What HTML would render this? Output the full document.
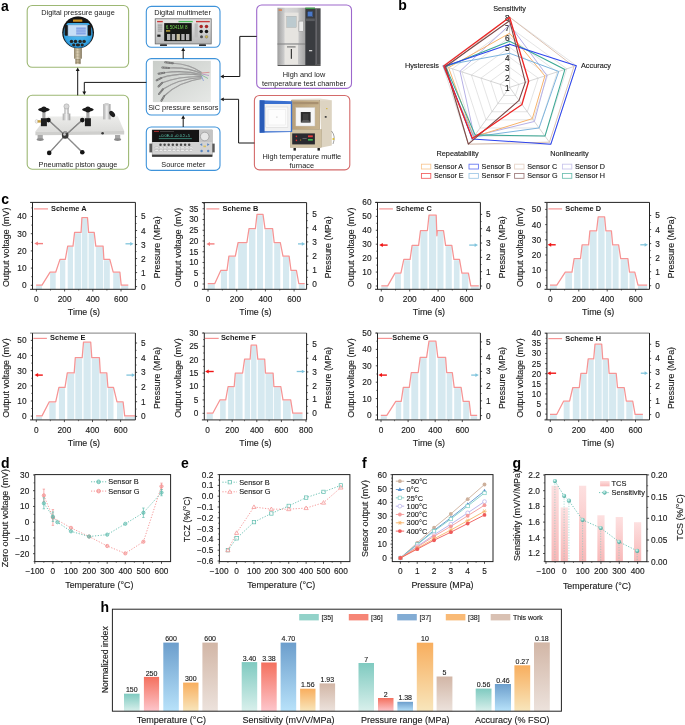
<!DOCTYPE html>
<html><head><meta charset="utf-8"><title>figure</title>
<style>
html,body{margin:0;padding:0;background:#fff;}
body{width:685px;height:725px;overflow:hidden;}
svg{display:block;font-family:"Liberation Sans", sans-serif;will-change:transform;}
</style></head><body>
<svg width="685" height="725" viewBox="0 0 685 725" font-family='"Liberation Sans", sans-serif'>
<defs>

<radialGradient id="gblue" cx="0.5" cy="0.45" r="0.55"><stop offset="0" stop-color="#58bef0"/><stop offset="0.85" stop-color="#34a4e4"/><stop offset="1" stop-color="#2280c0"/></radialGradient>
<linearGradient id="gstem" x1="0" x2="1"><stop offset="0" stop-color="#8e8268"/><stop offset="0.45" stop-color="#d8ccb0"/><stop offset="1" stop-color="#847860"/></linearGradient>
<linearGradient id="gsilver" x1="0" x2="1"><stop offset="0" stop-color="#a8a8a8"/><stop offset="0.5" stop-color="#f2f2f2"/><stop offset="1" stop-color="#9a9a9a"/></linearGradient>
<linearGradient id="gplat" x1="0" y1="0" x2="0" y2="1"><stop offset="0" stop-color="#ececea"/><stop offset="1" stop-color="#dcdcda"/></linearGradient>
<linearGradient id="gphoto" x1="0" y1="0" x2="1" y2="1"><stop offset="0" stop-color="#c9cdc9"/><stop offset="1" stop-color="#e6e8e6"/></linearGradient>
<linearGradient id="gcham" x1="0" x2="1"><stop offset="0" stop-color="#9e9e9e"/><stop offset="0.3" stop-color="#d8d8d8"/><stop offset="0.7" stop-color="#cfcfcf"/><stop offset="1" stop-color="#a4a4a4"/></linearGradient>
<linearGradient id="gfurn" x1="0" x2="1"><stop offset="0" stop-color="#b89f78"/><stop offset="1" stop-color="#c8b490"/></linearGradient>
<linearGradient id="gdmm" x1="0" y1="0" x2="0" y2="1"><stop offset="0" stop-color="#e8e8e8"/><stop offset="1" stop-color="#b8b8b8"/></linearGradient>

<linearGradient id="gtcs" x1="0" y1="0" x2="0" y2="1"><stop offset="0" stop-color="#fde0e0"/><stop offset="1" stop-color="#f8b8b8"/></linearGradient>
<radialGradient id="gball" cx="0.4" cy="0.35" r="0.6"><stop offset="0" stop-color="#e8f8f6"/><stop offset="0.5" stop-color="#8ad2c8"/><stop offset="1" stop-color="#4aa89c"/></radialGradient>
<linearGradient id="hg0" x1="0" y1="0" x2="0" y2="1"><stop offset="0" stop-color="#7fcac0"/><stop offset="1" stop-color="#d9f0ec"/></linearGradient>
<linearGradient id="hg1" x1="0" y1="0" x2="0" y2="1"><stop offset="0" stop-color="#f4705e"/><stop offset="1" stop-color="#fdc6cc"/></linearGradient>
<linearGradient id="hg2" x1="0" y1="0" x2="0" y2="1"><stop offset="0" stop-color="#6c9ecc"/><stop offset="1" stop-color="#b8e2fa"/></linearGradient>
<linearGradient id="hg3" x1="0" y1="0" x2="0" y2="1"><stop offset="0" stop-color="#f8ae5e"/><stop offset="1" stop-color="#f8e6bc"/></linearGradient>
<linearGradient id="hg4" x1="0" y1="0" x2="0" y2="1"><stop offset="0" stop-color="#d2b6a6"/><stop offset="1" stop-color="#ece2dc"/></linearGradient>
</defs>
<text x="1" y="10.6" font-size="14" font-weight="bold" fill="#000">a</text>
<rect x="27.20" y="5.50" width="101.40" height="61.80" fill="none" stroke="#9db874" stroke-width="1.1" rx="5"/>
<rect x="27.20" y="95.30" width="101.40" height="73.90" fill="none" stroke="#9db874" stroke-width="1.1" rx="5"/>
<rect x="146.30" y="6.40" width="73.70" height="40.90" fill="none" stroke="#3e93da" stroke-width="1.1" rx="5"/>
<rect x="146.30" y="58.60" width="73.70" height="56.40" fill="none" stroke="#3e93da" stroke-width="1.1" rx="5"/>
<rect x="146.30" y="127.00" width="73.70" height="43.40" fill="none" stroke="#3e93da" stroke-width="1.1" rx="5"/>
<rect x="256.70" y="5.00" width="94.80" height="83.40" fill="none" stroke="#9d68cc" stroke-width="1.1" rx="5"/>
<rect x="254.40" y="95.50" width="95.40" height="74.40" fill="none" stroke="#d46a6a" stroke-width="1.1" rx="5"/>
<text x="78.00" y="15.05" font-size="7.35" text-anchor="middle" font-weight="normal" fill="#1a1a1a" stroke="#1a1a1a" stroke-width="0">Digital pressure gauge</text>
<text x="78.00" y="166.85" font-size="7.35" text-anchor="middle" font-weight="normal" fill="#1a1a1a" stroke="#1a1a1a" stroke-width="0">Pneumatic piston gauge</text>
<text x="182.50" y="15.45" font-size="7.35" text-anchor="middle" font-weight="normal" fill="#1a1a1a" stroke="#1a1a1a" stroke-width="0">Digital multimeter</text>
<text x="183.30" y="109.55" font-size="7.35" text-anchor="middle" font-weight="normal" fill="#1a1a1a" stroke="#1a1a1a" stroke-width="0">SiC pressure sensors</text>
<text x="183.30" y="166.55" font-size="7.35" text-anchor="middle" font-weight="normal" fill="#1a1a1a" stroke="#1a1a1a" stroke-width="0">Source meter</text>
<text x="304.00" y="77.15" font-size="7.35" text-anchor="middle" font-weight="normal" fill="#1a1a1a" stroke="#1a1a1a" stroke-width="0">High and low</text>
<text x="304.00" y="85.95" font-size="7.35" text-anchor="middle" font-weight="normal" fill="#1a1a1a" stroke="#1a1a1a" stroke-width="0">temperature test chamber</text>
<text x="301.80" y="159.45" font-size="7.35" text-anchor="middle" font-weight="normal" fill="#1a1a1a" stroke="#1a1a1a" stroke-width="0">High temperature muffle</text>
<text x="301.80" y="168.25" font-size="7.35" text-anchor="middle" font-weight="normal" fill="#1a1a1a" stroke="#1a1a1a" stroke-width="0">furnace</text>
<line x1="77.70" y1="95.30" x2="77.70" y2="70.50" stroke="#161616" stroke-width="1.0"/>
<polygon points="77.70,67.60 75.78,71.10 79.62,71.10" fill="#161616" stroke="none" stroke-width="1" stroke-linejoin="round"/>
<polyline points="146.30,82.40 84.30,82.40 84.30,92.00" fill="none" stroke="#161616" stroke-width="1.0" stroke-linejoin="round"/>
<polygon points="84.30,95.00 82.38,91.50 86.22,91.50" fill="#161616" stroke="none" stroke-width="1" stroke-linejoin="round"/>
<line x1="183.20" y1="58.60" x2="183.20" y2="50.50" stroke="#161616" stroke-width="1.0"/>
<polygon points="183.20,47.60 181.27,51.10 185.12,51.10" fill="#161616" stroke="none" stroke-width="1" stroke-linejoin="round"/>
<line x1="183.20" y1="127.00" x2="183.20" y2="118.20" stroke="#161616" stroke-width="1.0"/>
<polygon points="183.20,115.30 181.27,118.80 185.12,118.80" fill="#161616" stroke="none" stroke-width="1" stroke-linejoin="round"/>
<polyline points="256.70,36.40 239.80,36.40 239.80,76.50 223.50,76.50" fill="none" stroke="#161616" stroke-width="1.0" stroke-linejoin="round"/>
<polygon points="220.30,76.50 223.80,74.58 223.80,78.42" fill="#161616" stroke="none" stroke-width="1" stroke-linejoin="round"/>
<polyline points="254.40,143.00 238.60,143.00 238.60,99.30 223.50,99.30" fill="none" stroke="#161616" stroke-width="1.0" stroke-linejoin="round"/>
<polygon points="220.30,99.30 223.80,97.38 223.80,101.22" fill="#161616" stroke="none" stroke-width="1" stroke-linejoin="round"/>
<g>
<rect x="74.00" y="47.50" width="7.90" height="11.20" fill="url(#gstem)" stroke="none" stroke-width="1" rx="0"/>
<line x1="74.20" y1="50.50" x2="81.70" y2="50.50" stroke="#a09478" stroke-width="0.3"/>
<line x1="74.20" y1="53.50" x2="81.70" y2="53.50" stroke="#a09478" stroke-width="0.3"/>
<line x1="74.20" y1="56.50" x2="81.70" y2="56.50" stroke="#a09478" stroke-width="0.3"/>
<rect x="75.40" y="58.50" width="5.20" height="5.60" fill="url(#gstem)" stroke="none" stroke-width="1" rx="0"/>
<line x1="75.40" y1="59.50" x2="80.60" y2="59.50" stroke="#7a6a4a" stroke-width="0.4"/>
<line x1="75.40" y1="61.00" x2="80.60" y2="61.00" stroke="#7a6a4a" stroke-width="0.4"/>
<line x1="75.40" y1="62.50" x2="80.60" y2="62.50" stroke="#7a6a4a" stroke-width="0.4"/>
<clipPath id="gclip"><circle cx="78.1" cy="32.4" r="15.6"/></clipPath>
<circle cx="78.1" cy="32.4" r="15.9" fill="#151515"/>
<circle cx="78.1" cy="33.4" r="14.6" fill="url(#gblue)"/>
<rect x="60" y="14" width="40" height="8.2" fill="#151515" clip-path="url(#gclip)"/>
<path d="M66.5,22 Q78.1,19.6 89.7,22 L89.7,23 L66.5,23 Z" fill="#151515"/>
<rect x="73.00" y="19.60" width="9.30" height="2.20" fill="#d09020" stroke="none" stroke-width="1" rx="0.3"/>
<rect x="64.60" y="25.00" width="3.60" height="10.80" fill="#1a1a1a" stroke="none" stroke-width="1" rx="1.2"/>
<rect x="87.60" y="25.00" width="3.60" height="10.80" fill="#1a1a1a" stroke="none" stroke-width="1" rx="1.2"/>
<rect x="67.90" y="24.80" width="19.40" height="11.50" fill="#c6def6" stroke="#5a7a9a" stroke-width="0.4" rx="0.8"/>
<rect x="76.20" y="27.60" width="9.60" height="1.10" fill="#6a8ee0" stroke="none" stroke-width="1" rx="0"/>
<rect x="76.20" y="29.50" width="9.60" height="1.10" fill="#6a8ee0" stroke="none" stroke-width="1" rx="0"/>
<rect x="76.20" y="31.40" width="9.60" height="1.10" fill="#6a8ee0" stroke="none" stroke-width="1" rx="0"/>
<rect x="76.20" y="33.30" width="9.60" height="1.10" fill="#6a8ee0" stroke="none" stroke-width="1" rx="0"/>
<ellipse cx="71.5" cy="41.4" rx="1.75" ry="1.6" fill="#252525"/>
<ellipse cx="75.5" cy="41.4" rx="1.75" ry="1.6" fill="#252525"/>
<ellipse cx="80.1" cy="41.4" rx="1.75" ry="1.6" fill="#252525"/>
<ellipse cx="84.1" cy="41.4" rx="1.75" ry="1.6" fill="#252525"/>
<ellipse cx="73.7" cy="45.0" rx="1.6" ry="1.4" fill="#252525"/>
<ellipse cx="77.9" cy="45.0" rx="2.2" ry="1.4" fill="#252525"/>
<ellipse cx="82.2" cy="45.0" rx="1.6" ry="1.4" fill="#252525"/>
</g>
<g>
<polygon points="46.50,116.60 117.80,116.20 124.20,131.00 35.40,131.60" fill="url(#gplat)" stroke="none" stroke-width="1" stroke-linejoin="round"/>
<polygon points="35.40,131.60 124.20,131.00 124.20,134.60 35.40,135.30" fill="#cfcfcd" stroke="none" stroke-width="1" stroke-linejoin="round"/>
<rect x="37.60" y="135.00" width="5.20" height="4.20" fill="#a8a8a8" stroke="none" stroke-width="1" rx="0"/>
<ellipse cx="40.2" cy="139.6" rx="3.6" ry="1.3" fill="#8a8a8a"/>
<rect x="115.00" y="135.00" width="5.20" height="4.20" fill="#a8a8a8" stroke="none" stroke-width="1" rx="0"/>
<ellipse cx="117.6" cy="139.6" rx="3.6" ry="1.3" fill="#8a8a8a"/>
<ellipse cx="36.6" cy="121.4" rx="1.4" ry="1.9" fill="#f2f2f2" stroke="#aaa" stroke-width="0.4"/>
<rect x="37.60" y="120.20" width="3.20" height="2.40" fill="#c8a040" stroke="none" stroke-width="1" rx="0"/>
<line x1="65.20" y1="135.40" x2="48.40" y2="120.10" stroke="#6e6e6e" stroke-width="1.3"/>
<line x1="65.20" y1="135.40" x2="48.40" y2="120.10" stroke="#b8b8b8" stroke-width="0.4"/>
<line x1="65.20" y1="135.40" x2="82.30" y2="120.10" stroke="#6e6e6e" stroke-width="1.3"/>
<line x1="65.20" y1="135.40" x2="82.30" y2="120.10" stroke="#b8b8b8" stroke-width="0.4"/>
<line x1="65.20" y1="135.40" x2="49.20" y2="152.90" stroke="#6e6e6e" stroke-width="1.3"/>
<line x1="65.20" y1="135.40" x2="49.20" y2="152.90" stroke="#b8b8b8" stroke-width="0.4"/>
<line x1="65.20" y1="135.40" x2="82.30" y2="152.20" stroke="#6e6e6e" stroke-width="1.3"/>
<line x1="65.20" y1="135.40" x2="82.30" y2="152.20" stroke="#b8b8b8" stroke-width="0.4"/>
<circle cx="48.4" cy="120.1" r="2.3" fill="#141414"/>
<circle cx="82.3" cy="120.1" r="2.3" fill="#141414"/>
<circle cx="49.2" cy="152.9" r="2.3" fill="#141414"/>
<circle cx="82.3" cy="152.2" r="2.3" fill="#141414"/>
<circle cx="65.2" cy="135.4" r="3.3" fill="#3a3a3a"/>
<circle cx="64.5" cy="134.4" r="1.3" fill="#c8c8c8"/>
<rect x="63.60" y="131.00" width="3.20" height="2.20" fill="#9a9a9a" stroke="none" stroke-width="1" rx="0"/>
<rect x="42.30" y="111.50" width="3.20" height="7.00" fill="#a6a6a6" stroke="none" stroke-width="1" rx="0"/>
<rect x="40.90" y="118.20" width="6.00" height="8.00" fill="#1e1e1e" stroke="none" stroke-width="1" rx="0"/>
<ellipse cx="43.9" cy="109.6" rx="5.8" ry="2.0" fill="#1a1a1a"/>
<ellipse cx="43.9" cy="109.4" rx="2.6" ry="3.0" fill="#1a1a1a"/>
<rect x="86.30" y="111.50" width="3.20" height="7.00" fill="#a6a6a6" stroke="none" stroke-width="1" rx="0"/>
<rect x="84.90" y="118.20" width="6.00" height="8.00" fill="#1e1e1e" stroke="none" stroke-width="1" rx="0"/>
<ellipse cx="87.9" cy="109.6" rx="5.8" ry="2.0" fill="#1a1a1a"/>
<ellipse cx="87.9" cy="109.4" rx="2.6" ry="3.0" fill="#1a1a1a"/>
<rect x="62.70" y="113.50" width="7.60" height="6.80" fill="url(#gsilver)" stroke="none" stroke-width="1" rx="0"/>
<rect x="64.40" y="108.00" width="4.20" height="6.00" fill="url(#gsilver)" stroke="none" stroke-width="1" rx="0"/>
<circle cx="66.5" cy="106.4" r="2.6" fill="#d8d8d8" stroke="#8a8a8a" stroke-width="0.4"/>
<rect x="103.20" y="104.00" width="7.30" height="15.40" fill="url(#gsilver)" stroke="none" stroke-width="1" rx="0"/>
<rect x="104.60" y="103.00" width="4.00" height="2.50" fill="#d0d0d0" stroke="none" stroke-width="1" rx="0"/>
<ellipse cx="112.2" cy="114.0" rx="2.2" ry="3.6" transform="rotate(-40 112.2 114.0)" fill="#1e1e1e"/>
<circle cx="102.6" cy="133.2" r="1.3" fill="#3a3a3a"/>
</g>
<g>
<rect x="155.20" y="18.80" width="56.00" height="25.10" fill="url(#gdmm)" stroke="#6a6a6a" stroke-width="0.8" rx="0"/>
<rect x="157.10" y="20.90" width="5.70" height="1.40" fill="#c83a3a" stroke="none" stroke-width="1" rx="0"/>
<rect x="178.50" y="20.90" width="14.20" height="1.40" fill="#50c060" stroke="none" stroke-width="1" rx="0"/>
<rect x="196.00" y="20.90" width="13.80" height="1.40" fill="#c83a3a" stroke="none" stroke-width="1" rx="0"/>
<rect x="164.20" y="23.10" width="27.50" height="18.00" fill="#161816" stroke="none" stroke-width="1" rx="0"/>
<text x="165.80" y="29.26" font-size="4.6" text-anchor="start" font-weight="normal" fill="#6fd050" stroke="#6fd050" stroke-width="0">6.5041M 8</text>
<rect x="166.00" y="30.20" width="4.20" height="1.40" fill="#c8b040" stroke="none" stroke-width="1" rx="0"/>
<rect x="167.00" y="34.00" width="3.30" height="6.10" fill="#b4b4b4" stroke="none" stroke-width="1" rx="0"/>
<rect x="171.80" y="34.00" width="3.30" height="6.10" fill="#b4b4b4" stroke="none" stroke-width="1" rx="0"/>
<rect x="176.60" y="34.00" width="3.30" height="6.10" fill="#c8c0a0" stroke="none" stroke-width="1" rx="0"/>
<rect x="181.30" y="34.00" width="3.30" height="6.10" fill="#b4b4b4" stroke="none" stroke-width="1" rx="0"/>
<rect x="186.00" y="34.00" width="3.30" height="6.10" fill="#b4b4b4" stroke="none" stroke-width="1" rx="0"/>
<rect x="157.20" y="23.20" width="5.60" height="11.00" fill="#cfcfcf" stroke="none" stroke-width="1" rx="0"/>
<rect x="157.80" y="24.50" width="4.40" height="1.20" fill="#9a9a9a" stroke="none" stroke-width="1" rx="0"/>
<rect x="157.80" y="26.50" width="4.40" height="1.20" fill="#9a9a9a" stroke="none" stroke-width="1" rx="0"/>
<rect x="157.80" y="28.50" width="4.40" height="1.20" fill="#9a9a9a" stroke="none" stroke-width="1" rx="0"/>
<rect x="157.80" y="30.50" width="4.40" height="1.20" fill="#9a9a9a" stroke="none" stroke-width="1" rx="0"/>
<rect x="157.30" y="34.60" width="3.20" height="2.20" fill="#202020" stroke="none" stroke-width="1" rx="0"/>
<rect x="194.60" y="23.40" width="3.20" height="14.00" fill="#bcbcbc" stroke="none" stroke-width="1" rx="0"/>
<circle cx="201.2" cy="26.4" r="1.75" fill="#a82828"/>
<circle cx="206.5" cy="26.4" r="1.75" fill="#a82828"/>
<circle cx="201.2" cy="31.6" r="1.75" fill="#151515"/>
<circle cx="206.5" cy="31.6" r="1.75" fill="#151515"/>
<circle cx="201.5" cy="36.8" r="1.5" fill="#505050"/><circle cx="206.5" cy="36.8" r="1.4" fill="#d0b850" stroke="#444" stroke-width="0.3"/>
<rect x="160.00" y="44.20" width="7.00" height="1.80" fill="#303030" stroke="none" stroke-width="1" rx="0.6"/>
<rect x="199.00" y="44.20" width="7.00" height="1.80" fill="#303030" stroke="none" stroke-width="1" rx="0.6"/>
</g>
<g>
<rect x="152.90" y="60.80" width="57.90" height="41.30" fill="url(#gphoto)" stroke="none" stroke-width="1" rx="0"/>
<path d="M172.8,63.2 Q190,64 201.5,72.5" fill="none" stroke="#858585" stroke-width="1.15"/>
<path d="M172.8,63.2 Q190,64 201.5,72.5" fill="none" stroke="#c4c4c4" stroke-width="0.4"/>
<line x1="165.2" y1="62.3" x2="172.8" y2="63.2" stroke="#6e6e6e" stroke-width="1.9" stroke-linecap="round"/>
<line x1="165.2" y1="62.3" x2="172.8" y2="63.2" stroke="#d0d0d0" stroke-width="0.6" stroke-dasharray="0.8,0.8"/>
<path d="M169.0,68.0 Q188,67 201.5,73.5" fill="none" stroke="#858585" stroke-width="1.15"/>
<path d="M169.0,68.0 Q188,67 201.5,73.5" fill="none" stroke="#c4c4c4" stroke-width="0.4"/>
<line x1="162.3" y1="67.5" x2="169.0" y2="68.0" stroke="#6e6e6e" stroke-width="1.9" stroke-linecap="round"/>
<line x1="162.3" y1="67.5" x2="169.0" y2="68.0" stroke="#d0d0d0" stroke-width="0.6" stroke-dasharray="0.8,0.8"/>
<path d="M164.2,72.7 Q185,70 201.5,74.5" fill="none" stroke="#858585" stroke-width="1.15"/>
<path d="M164.2,72.7 Q185,70 201.5,74.5" fill="none" stroke="#c4c4c4" stroke-width="0.4"/>
<line x1="158.5" y1="73.7" x2="164.2" y2="72.7" stroke="#6e6e6e" stroke-width="1.9" stroke-linecap="round"/>
<line x1="158.5" y1="73.7" x2="164.2" y2="72.7" stroke="#d0d0d0" stroke-width="0.6" stroke-dasharray="0.8,0.8"/>
<path d="M161.4,77.9 Q180,72 201.5,75.5" fill="none" stroke="#858585" stroke-width="1.15"/>
<path d="M161.4,77.9 Q180,72 201.5,75.5" fill="none" stroke="#c4c4c4" stroke-width="0.4"/>
<line x1="156.6" y1="80.3" x2="161.4" y2="77.9" stroke="#6e6e6e" stroke-width="1.9" stroke-linecap="round"/>
<line x1="156.6" y1="80.3" x2="161.4" y2="77.9" stroke="#d0d0d0" stroke-width="0.6" stroke-dasharray="0.8,0.8"/>
<path d="M162.3,82.7 Q180,76 201.5,76.5" fill="none" stroke="#858585" stroke-width="1.15"/>
<path d="M162.3,82.7 Q180,76 201.5,76.5" fill="none" stroke="#c4c4c4" stroke-width="0.4"/>
<line x1="158.5" y1="86.5" x2="162.3" y2="82.7" stroke="#6e6e6e" stroke-width="1.9" stroke-linecap="round"/>
<line x1="158.5" y1="86.5" x2="162.3" y2="82.7" stroke="#d0d0d0" stroke-width="0.6" stroke-dasharray="0.8,0.8"/>
<path d="M162.8,89.3 Q178,79 201.5,77.5" fill="none" stroke="#858585" stroke-width="1.15"/>
<path d="M162.8,89.3 Q178,79 201.5,77.5" fill="none" stroke="#c4c4c4" stroke-width="0.4"/>
<line x1="159.0" y1="94.0" x2="162.8" y2="89.3" stroke="#6e6e6e" stroke-width="1.9" stroke-linecap="round"/>
<line x1="159.0" y1="94.0" x2="162.8" y2="89.3" stroke="#d0d0d0" stroke-width="0.6" stroke-dasharray="0.8,0.8"/>
<path d="M164.2,96.0 Q178,82 201.5,78.5" fill="none" stroke="#858585" stroke-width="1.15"/>
<path d="M164.2,96.0 Q178,82 201.5,78.5" fill="none" stroke="#c4c4c4" stroke-width="0.4"/>
<line x1="161.4" y1="100.7" x2="164.2" y2="96.0" stroke="#6e6e6e" stroke-width="1.9" stroke-linecap="round"/>
<line x1="161.4" y1="100.7" x2="164.2" y2="96.0" stroke="#d0d0d0" stroke-width="0.6" stroke-dasharray="0.8,0.8"/>
<line x1="201.50" y1="73.00" x2="209.50" y2="72.30" stroke="#d05050" stroke-width="0.5"/>
<line x1="201.50" y1="75.00" x2="208.00" y2="78.50" stroke="#40a060" stroke-width="0.5"/>
<line x1="201.50" y1="76.00" x2="203.50" y2="81.00" stroke="#5070d0" stroke-width="0.5"/>
<line x1="202.00" y1="74.00" x2="209.00" y2="75.50" stroke="#9060b0" stroke-width="0.5"/>
</g>
<g>
<rect x="152.10" y="129.90" width="60.20" height="26.90" fill="#d2d2d2" stroke="#8a8a8a" stroke-width="0.4" rx="0"/>
<rect x="152.10" y="129.90" width="47.10" height="12.10" fill="#141414" stroke="none" stroke-width="1" rx="0"/>
<rect x="154.00" y="130.90" width="5.00" height="0.90" fill="#c03030" stroke="none" stroke-width="1" rx="0"/>
<rect x="160.00" y="131.00" width="14.00" height="0.60" fill="#5a5a5a" stroke="none" stroke-width="1" rx="0"/>
<text x="158.80" y="136.84" font-size="4.0" text-anchor="start" font-weight="normal" fill="#5cc8b0" stroke="#5cc8b0" stroke-width="0">+0.0E-0  +0.0.Σ+5</text>
<rect x="158.80" y="138.20" width="33.00" height="0.90" fill="#3a8a7a" stroke="none" stroke-width="1" rx="0"/>
<rect x="199.20" y="129.90" width="13.10" height="12.10" fill="#c4c4c4" stroke="none" stroke-width="1" rx="0"/>
<circle cx="204.7" cy="136.5" r="4.3" fill="#e6e6e6" stroke="#8a8a8a" stroke-width="0.6"/>
<path d="M199.8,144.6 L202.2,143.2 L202.2,146.0 Z M209.6,144.6 L207.2,143.2 L207.2,146.0 Z" fill="#5a86c0"/>
<rect x="203.40" y="145.60" width="2.60" height="1.60" fill="#d8c060" stroke="none" stroke-width="1" rx="0"/>
<circle cx="201.6" cy="151.0" r="1.2" fill="#5a86c0"/><circle cx="208.2" cy="151.0" r="1.2" fill="#5a86c0"/>
<circle cx="160.5" cy="144.8" r="1.25" fill="#4a4a4a"/>
<circle cx="164.6" cy="144.8" r="1.25" fill="#4a4a4a"/>
<circle cx="168.7" cy="144.8" r="1.25" fill="#4a4a4a"/>
<circle cx="172.8" cy="144.8" r="1.25" fill="#4a4a4a"/>
<circle cx="176.9" cy="144.8" r="1.25" fill="#4a4a4a"/>
<circle cx="181.0" cy="144.8" r="1.25" fill="#4a4a4a"/>
<circle cx="185.1" cy="144.8" r="1.25" fill="#4a4a4a"/>
<circle cx="189.2" cy="144.8" r="1.25" fill="#4a4a4a"/>
<rect x="155.00" y="147.00" width="3.30" height="1.70" fill="#ececec" stroke="#9a9a9a" stroke-width="0.25" rx="0"/>
<rect x="159.30" y="147.00" width="3.30" height="1.70" fill="#ececec" stroke="#9a9a9a" stroke-width="0.25" rx="0"/>
<rect x="163.60" y="147.00" width="3.30" height="1.70" fill="#ececec" stroke="#9a9a9a" stroke-width="0.25" rx="0"/>
<rect x="167.90" y="147.00" width="3.30" height="1.70" fill="#ececec" stroke="#9a9a9a" stroke-width="0.25" rx="0"/>
<rect x="172.20" y="147.00" width="3.30" height="1.70" fill="#ececec" stroke="#9a9a9a" stroke-width="0.25" rx="0"/>
<rect x="176.50" y="147.00" width="3.30" height="1.70" fill="#ececec" stroke="#9a9a9a" stroke-width="0.25" rx="0"/>
<rect x="180.80" y="147.00" width="3.30" height="1.70" fill="#ececec" stroke="#9a9a9a" stroke-width="0.25" rx="0"/>
<rect x="185.10" y="147.00" width="3.30" height="1.70" fill="#ececec" stroke="#9a9a9a" stroke-width="0.25" rx="0"/>
<rect x="189.40" y="147.00" width="3.30" height="1.70" fill="#ececec" stroke="#9a9a9a" stroke-width="0.25" rx="0"/>
<rect x="155.00" y="149.60" width="3.30" height="1.70" fill="#ececec" stroke="#9a9a9a" stroke-width="0.25" rx="0"/>
<rect x="159.30" y="149.60" width="3.30" height="1.70" fill="#ececec" stroke="#9a9a9a" stroke-width="0.25" rx="0"/>
<rect x="163.60" y="149.60" width="3.30" height="1.70" fill="#ececec" stroke="#9a9a9a" stroke-width="0.25" rx="0"/>
<rect x="167.90" y="149.60" width="3.30" height="1.70" fill="#ececec" stroke="#9a9a9a" stroke-width="0.25" rx="0"/>
<rect x="172.20" y="149.60" width="3.30" height="1.70" fill="#ececec" stroke="#9a9a9a" stroke-width="0.25" rx="0"/>
<rect x="176.50" y="149.60" width="3.30" height="1.70" fill="#ececec" stroke="#9a9a9a" stroke-width="0.25" rx="0"/>
<rect x="180.80" y="149.60" width="3.30" height="1.70" fill="#ececec" stroke="#9a9a9a" stroke-width="0.25" rx="0"/>
<rect x="185.10" y="149.60" width="3.30" height="1.70" fill="#ececec" stroke="#9a9a9a" stroke-width="0.25" rx="0"/>
<rect x="189.40" y="149.60" width="3.30" height="1.70" fill="#ececec" stroke="#9a9a9a" stroke-width="0.25" rx="0"/>
<rect x="149.40" y="143.60" width="2.70" height="8.80" fill="#5a5a5a" stroke="none" stroke-width="1" rx="0"/>
<rect x="212.30" y="143.60" width="2.40" height="8.80" fill="#5a5a5a" stroke="none" stroke-width="1" rx="0"/>
<rect x="152.10" y="154.60" width="60.20" height="2.20" fill="#3a3a3a" stroke="none" stroke-width="1" rx="0"/>
</g>
<g>
<rect x="277.40" y="7.70" width="27.80" height="57.40" fill="url(#gcham)" stroke="none" stroke-width="1" rx="0"/>
<rect x="284.60" y="12.60" width="13.90" height="30.50" fill="#e6e4e0" stroke="none" stroke-width="1" rx="0"/>
<rect x="286.80" y="16.20" width="9.40" height="11.20" fill="#bccacf" stroke="#a8a8a8" stroke-width="0.4" rx="0"/>
<rect x="298.90" y="21.10" width="4.50" height="10.40" fill="#ececec" stroke="#8a8a8a" stroke-width="0.5" rx="0"/>
<line x1="277.40" y1="44.00" x2="305.20" y2="44.00" stroke="#7a7a7a" stroke-width="0.9"/>
<rect x="284.60" y="44.90" width="13.40" height="19.30" fill="#e8e6e2" stroke="none" stroke-width="1" rx="0"/>
<rect x="287.00" y="46.30" width="8.60" height="1.20" fill="#7a7a7a" stroke="none" stroke-width="1" rx="0"/>
<rect x="290.80" y="49.00" width="1.10" height="9.80" fill="#2a2a2a" stroke="none" stroke-width="1" rx="0"/>
<rect x="305.20" y="7.70" width="9.80" height="57.40" fill="#3a3c40" stroke="none" stroke-width="1" rx="0"/>
<rect x="315.00" y="8.30" width="5.60" height="56.60" fill="#48494c" stroke="none" stroke-width="1" rx="0"/>
<rect x="315.60" y="9.00" width="1.20" height="55.00" fill="#6c6c70" stroke="none" stroke-width="1" rx="0"/>
<rect x="305.40" y="7.70" width="9.60" height="1.10" fill="#40b050" stroke="none" stroke-width="1" rx="0"/>
<rect x="307.40" y="11.30" width="5.40" height="5.40" fill="#4a78c8" stroke="#222" stroke-width="0.3" rx="0"/>
<rect x="305.60" y="18.50" width="9.20" height="2.60" fill="#5a5c60" stroke="none" stroke-width="1" rx="0"/>
<rect x="309.00" y="50.00" width="3.20" height="1.30" fill="#d0d0d0" stroke="none" stroke-width="1" rx="0"/>
<rect x="277.60" y="65.00" width="43.00" height="1.00" fill="#555" stroke="none" stroke-width="1" rx="0"/>
<rect x="278.60" y="9.40" width="3.40" height="1.30" fill="#e07840" stroke="none" stroke-width="1" rx="0"/>
</g>
<g>
<polygon points="319.80,99.20 331.80,100.20 331.80,145.50 321.60,147.50" fill="#ddd4c2" stroke="none" stroke-width="1" stroke-linejoin="round"/>
<polygon points="291.60,99.00 319.80,98.60 331.80,100.20 319.80,100.60 291.60,100.80" fill="#e6ded0" stroke="none" stroke-width="1" stroke-linejoin="round"/>
<rect x="291.60" y="100.60" width="28.20" height="29.00" fill="url(#gfurn)" stroke="#a08a68" stroke-width="0.4" rx="0"/>
<rect x="293.00" y="102.00" width="25.50" height="2.20" fill="#a89070" stroke="none" stroke-width="1" rx="0"/>
<rect x="295.90" y="107.60" width="19.00" height="18.40" fill="#f6f6f6" stroke="#cfcfcf" stroke-width="0.4" rx="0"/>
<rect x="300.80" y="112.00" width="9.80" height="10.40" fill="#2e2e2e" stroke="none" stroke-width="1" rx="0"/>
<polygon points="300.80,122.40 303.00,120.00 308.40,120.00 310.60,122.40" fill="#5a5a5a" stroke="none" stroke-width="1" stroke-linejoin="round"/>
<rect x="303.00" y="113.80" width="5.40" height="6.20" fill="#404040" stroke="none" stroke-width="1" rx="0"/>
<rect x="290.30" y="129.60" width="31.30" height="17.90" fill="#d0c2a4" stroke="#a89878" stroke-width="0.4" rx="0"/>
<rect x="292.20" y="133.40" width="22.70" height="11.00" fill="#2a2a30" stroke="none" stroke-width="1" rx="0"/>
<circle cx="296.4" cy="136.4" r="0.8" fill="#e03030"/><circle cx="296.4" cy="140.4" r="0.8" fill="#e03030"/><circle cx="300.6" cy="140.0" r="0.6" fill="#d0a020"/>
<rect x="308.00" y="135.40" width="4.80" height="1.80" fill="#e84040" stroke="none" stroke-width="1" rx="0"/>
<rect x="308.00" y="139.00" width="4.80" height="1.60" fill="#40c050" stroke="none" stroke-width="1" rx="0"/>
<rect x="302.50" y="138.00" width="4.20" height="0.60" fill="#888" stroke="none" stroke-width="1" rx="0"/>
<path d="M331.5,131 Q336,136 333,144" fill="none" stroke="#666" stroke-width="0.6"/>
<circle cx="333.4" cy="139.0" r="1.1" fill="#e0c030"/>
<rect x="324.80" y="116.00" width="1.80" height="1.80" fill="#444" stroke="none" stroke-width="1" rx="0"/>
<rect x="326.20" y="108.00" width="1.20" height="1.20" fill="#d0b030" stroke="none" stroke-width="1" rx="0"/>
<rect x="293.50" y="148.00" width="2.40" height="2.60" fill="#222" stroke="none" stroke-width="1" rx="0"/>
<rect x="317.50" y="148.00" width="2.40" height="2.60" fill="#222" stroke="none" stroke-width="1" rx="0"/>
<polygon points="259.70,100.30 292.20,101.20 292.20,132.00 259.70,132.80" fill="#3a70d0" stroke="none" stroke-width="1" stroke-linejoin="round"/>
<polygon points="259.70,100.30 264.60,100.50 264.60,132.60 259.70,132.80" fill="#2a5cb8" stroke="none" stroke-width="1" stroke-linejoin="round"/>
<rect x="264.60" y="104.00" width="26.20" height="27.20" fill="#f2f2f2" stroke="none" stroke-width="1" rx="0"/>
<rect x="265.80" y="107.00" width="22.10" height="20.30" fill="#fafafa" stroke="#d4d4d4" stroke-width="0.5" rx="0"/>
<rect x="268.00" y="109.20" width="17.60" height="15.80" fill="#fdfdfd" stroke="#e2e2e2" stroke-width="0.4" rx="0"/>
<rect x="276.40" y="116.60" width="1.00" height="1.00" fill="#bbb" stroke="none" stroke-width="1" rx="0"/>
</g>
<text x="398.3" y="10.4" font-size="14" font-weight="bold" fill="#000">b</text>
<polygon points="509.60,77.37 519.14,84.30 515.49,95.51 503.71,95.51 500.06,84.30" fill="none" stroke="#cdcdcd" stroke-width="0.55" stroke-linejoin="round"/>
<polygon points="509.60,67.34 528.68,81.20 521.39,103.63 497.81,103.63 490.52,81.20" fill="none" stroke="#cdcdcd" stroke-width="0.55" stroke-linejoin="round"/>
<polygon points="509.60,57.31 538.21,78.10 527.28,111.74 491.92,111.74 480.99,78.10" fill="none" stroke="#cdcdcd" stroke-width="0.55" stroke-linejoin="round"/>
<polygon points="509.60,47.29 547.75,75.00 533.18,119.85 486.02,119.85 471.45,75.00" fill="none" stroke="#cdcdcd" stroke-width="0.55" stroke-linejoin="round"/>
<polygon points="509.60,37.26 557.29,71.91 539.07,127.97 480.13,127.97 461.91,71.91" fill="none" stroke="#cdcdcd" stroke-width="0.55" stroke-linejoin="round"/>
<polygon points="509.60,27.23 566.83,68.81 544.97,136.08 474.23,136.08 452.37,68.81" fill="none" stroke="#cdcdcd" stroke-width="0.55" stroke-linejoin="round"/>
<polygon points="509.60,17.20 576.36,65.71 550.86,144.19 468.34,144.19 442.84,65.71" fill="none" stroke="#cdcdcd" stroke-width="0.55" stroke-linejoin="round"/>
<line x1="509.60" y1="87.40" x2="509.60" y2="17.20" stroke="#b4b4b4" stroke-width="0.55"/>
<line x1="509.60" y1="87.40" x2="576.36" y2="65.71" stroke="#b4b4b4" stroke-width="0.55"/>
<line x1="509.60" y1="87.40" x2="550.86" y2="144.19" stroke="#b4b4b4" stroke-width="0.55"/>
<line x1="509.60" y1="87.40" x2="468.34" y2="144.19" stroke="#b4b4b4" stroke-width="0.55"/>
<line x1="509.60" y1="87.40" x2="442.84" y2="65.71" stroke="#b4b4b4" stroke-width="0.55"/>
<text x="507.20" y="91.05" font-size="8.2" text-anchor="middle" font-weight="normal" fill="#222" stroke="#222" stroke-width="0.13">1</text>
<text x="507.20" y="81.02" font-size="8.2" text-anchor="middle" font-weight="normal" fill="#222" stroke="#222" stroke-width="0.13">2</text>
<text x="507.20" y="70.99" font-size="8.2" text-anchor="middle" font-weight="normal" fill="#222" stroke="#222" stroke-width="0.13">3</text>
<text x="507.20" y="60.97" font-size="8.2" text-anchor="middle" font-weight="normal" fill="#222" stroke="#222" stroke-width="0.13">4</text>
<text x="507.20" y="50.94" font-size="8.2" text-anchor="middle" font-weight="normal" fill="#222" stroke="#222" stroke-width="0.13">5</text>
<text x="507.20" y="40.91" font-size="8.2" text-anchor="middle" font-weight="normal" fill="#222" stroke="#222" stroke-width="0.13">6</text>
<text x="507.20" y="30.88" font-size="8.2" text-anchor="middle" font-weight="normal" fill="#222" stroke="#222" stroke-width="0.13">7</text>
<text x="507.20" y="20.85" font-size="8.2" text-anchor="middle" font-weight="normal" fill="#222" stroke="#222" stroke-width="0.13">8</text>
<polygon points="509.60,17.20 573.98,66.48 549.39,142.16 468.34,144.19 446.65,66.95" fill="none" stroke="#dcc2b2" stroke-width="1.0" stroke-linejoin="round"/>
<polygon points="509.60,24.72 546.80,75.31 534.36,121.48 474.23,136.08 460.00,71.29" fill="none" stroke="#b6b0e6" stroke-width="1.0" stroke-linejoin="round"/>
<polygon points="509.60,33.25 544.89,75.93 532.29,118.64 473.64,136.89 448.56,67.57" fill="none" stroke="#f7b36c" stroke-width="1.0" stroke-linejoin="round"/>
<polygon points="509.60,53.30 558.72,71.44 539.07,127.97 473.64,136.89 442.84,65.71" fill="none" stroke="#7cb4de" stroke-width="1.0" stroke-linejoin="round"/>
<polygon points="509.60,41.27 564.92,69.43 544.97,136.08 475.12,134.86 445.70,66.64" fill="none" stroke="#3aa894" stroke-width="1.05" stroke-linejoin="round"/>
<polygon points="509.60,44.28 576.36,65.71 550.86,144.19 472.17,138.92 444.74,66.33" fill="none" stroke="#2c44ee" stroke-width="1.05" stroke-linejoin="round"/>
<polygon points="509.60,20.71 525.34,82.29 519.03,100.38 468.34,144.19 445.51,66.57" fill="none" stroke="#7a4848" stroke-width="1.1" stroke-linejoin="round"/>
<polygon points="509.60,17.20 528.68,81.20 521.98,104.44 472.46,138.51 443.79,66.02" fill="none" stroke="#ee2424" stroke-width="1.3" stroke-linejoin="round"/>
<text x="509.60" y="10.83" font-size="7.3" text-anchor="middle" font-weight="normal" fill="#1a1a1a" stroke="#1a1a1a" stroke-width="0.13">Sensitivity</text>
<text x="581.00" y="68.43" font-size="7.3" text-anchor="start" font-weight="normal" fill="#1a1a1a" stroke="#1a1a1a" stroke-width="0.13">Accuracy</text>
<text x="439.00" y="68.43" font-size="7.3" text-anchor="end" font-weight="normal" fill="#1a1a1a" stroke="#1a1a1a" stroke-width="0.13">Hysteresis</text>
<text x="457.60" y="155.93" font-size="7.3" text-anchor="middle" font-weight="normal" fill="#1a1a1a" stroke="#1a1a1a" stroke-width="0.13">Repeatability</text>
<text x="569.40" y="155.93" font-size="7.3" text-anchor="middle" font-weight="normal" fill="#1a1a1a" stroke="#1a1a1a" stroke-width="0.13">Nonlinearity</text>
<rect x="421.40" y="164.20" width="9.40" height="4.80" fill="none" stroke="#f7b36c" stroke-width="0.85" rx="0" stroke-opacity="0.75"/>
<text x="434.00" y="169.19" font-size="7.2" text-anchor="start" font-weight="normal" fill="#1a1a1a" stroke="#1a1a1a" stroke-width="0.13">Sensor A</text>
<rect x="469.00" y="164.20" width="9.40" height="4.80" fill="none" stroke="#2c44ee" stroke-width="0.85" rx="0" stroke-opacity="0.75"/>
<text x="481.60" y="169.19" font-size="7.2" text-anchor="start" font-weight="normal" fill="#1a1a1a" stroke="#1a1a1a" stroke-width="0.13">Sensor B</text>
<rect x="514.60" y="164.20" width="9.40" height="4.80" fill="none" stroke="#dcc2b2" stroke-width="0.85" rx="0" stroke-opacity="0.75"/>
<text x="527.20" y="169.19" font-size="7.2" text-anchor="start" font-weight="normal" fill="#1a1a1a" stroke="#1a1a1a" stroke-width="0.13">Sensor C</text>
<rect x="562.40" y="164.20" width="9.40" height="4.80" fill="none" stroke="#b6b0e6" stroke-width="0.85" rx="0" stroke-opacity="0.75"/>
<text x="575.00" y="169.19" font-size="7.2" text-anchor="start" font-weight="normal" fill="#1a1a1a" stroke="#1a1a1a" stroke-width="0.13">Sensor D</text>
<rect x="421.40" y="173.50" width="9.40" height="4.80" fill="none" stroke="#ee2424" stroke-width="0.85" rx="0" stroke-opacity="0.75"/>
<text x="434.00" y="178.49" font-size="7.2" text-anchor="start" font-weight="normal" fill="#1a1a1a" stroke="#1a1a1a" stroke-width="0.13">Sensor E</text>
<rect x="469.00" y="173.50" width="9.40" height="4.80" fill="none" stroke="#7cb4de" stroke-width="0.85" rx="0" stroke-opacity="0.75"/>
<text x="481.60" y="178.49" font-size="7.2" text-anchor="start" font-weight="normal" fill="#1a1a1a" stroke="#1a1a1a" stroke-width="0.13">Sensor F</text>
<rect x="514.60" y="173.50" width="9.40" height="4.80" fill="none" stroke="#7a4848" stroke-width="0.85" rx="0" stroke-opacity="0.75"/>
<text x="527.20" y="178.49" font-size="7.2" text-anchor="start" font-weight="normal" fill="#1a1a1a" stroke="#1a1a1a" stroke-width="0.13">Sensor G</text>
<rect x="562.40" y="173.50" width="9.40" height="4.80" fill="none" stroke="#3aa894" stroke-width="0.85" rx="0" stroke-opacity="0.75"/>
<text x="575.00" y="178.49" font-size="7.2" text-anchor="start" font-weight="normal" fill="#1a1a1a" stroke="#1a1a1a" stroke-width="0.13">Sensor H</text>
<text x="1.2" y="203.6" font-size="14" font-weight="bold" fill="#000">c</text>
<rect x="36.10" y="285.90" width="5.90" height="3.40" fill="#d6e9f0" stroke="none" stroke-width="1" rx="0"/>
<rect x="50.10" y="273.00" width="5.60" height="16.30" fill="#d6e9f0" stroke="none" stroke-width="1" rx="0"/>
<rect x="60.00" y="260.20" width="5.30" height="29.10" fill="#d6e9f0" stroke="none" stroke-width="1" rx="0"/>
<rect x="67.70" y="246.90" width="5.30" height="42.40" fill="#d6e9f0" stroke="none" stroke-width="1" rx="0"/>
<rect x="74.60" y="233.20" width="6.50" height="56.10" fill="#d6e9f0" stroke="none" stroke-width="1" rx="0"/>
<rect x="81.90" y="218.40" width="5.60" height="70.90" fill="#d6e9f0" stroke="none" stroke-width="1" rx="0"/>
<rect x="88.60" y="233.20" width="5.60" height="56.10" fill="#d6e9f0" stroke="none" stroke-width="1" rx="0"/>
<rect x="95.80" y="246.90" width="7.30" height="42.40" fill="#d6e9f0" stroke="none" stroke-width="1" rx="0"/>
<rect x="103.90" y="260.20" width="5.90" height="29.10" fill="#d6e9f0" stroke="none" stroke-width="1" rx="0"/>
<rect x="113.20" y="273.00" width="6.70" height="16.30" fill="#d6e9f0" stroke="none" stroke-width="1" rx="0"/>
<rect x="121.20" y="285.90" width="7.10" height="3.40" fill="#d6e9f0" stroke="none" stroke-width="1" rx="0"/>
<polyline points="36.10,285.10 42.00,285.10 50.10,272.20 55.70,272.20 60.00,259.40 65.30,259.40 67.70,246.10 73.00,246.10 74.60,232.40 81.10,232.40 81.90,217.60 87.50,217.60 88.60,232.40 94.20,232.40 95.80,246.10 103.10,246.10 103.90,259.40 109.80,259.40 113.20,272.20 119.90,272.20 121.20,285.10 128.30,285.10" fill="none" stroke="#f69494" stroke-width="1.25" stroke-linejoin="round"/>
<line x1="30.10" y1="202.40" x2="135.40" y2="202.40" stroke="#222222" stroke-width="1.0"/>
<line x1="30.10" y1="289.30" x2="135.40" y2="289.30" stroke="#222222" stroke-width="1.0"/>
<line x1="32.50" y1="202.40" x2="32.50" y2="289.30" stroke="#222222" stroke-width="1.0"/>
<line x1="135.40" y1="202.40" x2="135.40" y2="289.30" stroke="#222222" stroke-width="1.0"/>
<line x1="30.80" y1="285.30" x2="32.50" y2="285.30" stroke="#222222" stroke-width="0.8"/>
<text x="26.60" y="288.29" font-size="8.3" text-anchor="end" font-weight="normal" fill="#1a1a1a" stroke="#1a1a1a" stroke-width="0.13">0</text>
<line x1="30.80" y1="268.10" x2="32.50" y2="268.10" stroke="#222222" stroke-width="0.8"/>
<text x="26.60" y="271.09" font-size="8.3" text-anchor="end" font-weight="normal" fill="#1a1a1a" stroke="#1a1a1a" stroke-width="0.13">10</text>
<line x1="30.80" y1="250.90" x2="32.50" y2="250.90" stroke="#222222" stroke-width="0.8"/>
<text x="26.60" y="253.89" font-size="8.3" text-anchor="end" font-weight="normal" fill="#1a1a1a" stroke="#1a1a1a" stroke-width="0.13">20</text>
<line x1="30.80" y1="233.70" x2="32.50" y2="233.70" stroke="#222222" stroke-width="0.8"/>
<text x="26.60" y="236.69" font-size="8.3" text-anchor="end" font-weight="normal" fill="#1a1a1a" stroke="#1a1a1a" stroke-width="0.13">30</text>
<line x1="30.80" y1="216.50" x2="32.50" y2="216.50" stroke="#222222" stroke-width="0.8"/>
<text x="26.60" y="219.49" font-size="8.3" text-anchor="end" font-weight="normal" fill="#1a1a1a" stroke="#1a1a1a" stroke-width="0.13">40</text>
<line x1="31.20" y1="276.70" x2="32.50" y2="276.70" stroke="#222222" stroke-width="0.6"/>
<line x1="31.20" y1="259.50" x2="32.50" y2="259.50" stroke="#222222" stroke-width="0.6"/>
<line x1="31.20" y1="242.30" x2="32.50" y2="242.30" stroke="#222222" stroke-width="0.6"/>
<line x1="31.20" y1="225.10" x2="32.50" y2="225.10" stroke="#222222" stroke-width="0.6"/>
<line x1="31.20" y1="207.90" x2="32.50" y2="207.90" stroke="#222222" stroke-width="0.6"/>
<line x1="135.40" y1="286.60" x2="137.10" y2="286.60" stroke="#222222" stroke-width="0.8"/>
<text x="141.10" y="289.59" font-size="8.3" text-anchor="start" font-weight="normal" fill="#1a1a1a" stroke="#1a1a1a" stroke-width="0.13">0</text>
<line x1="135.40" y1="272.58" x2="137.10" y2="272.58" stroke="#222222" stroke-width="0.8"/>
<text x="141.10" y="275.57" font-size="8.3" text-anchor="start" font-weight="normal" fill="#1a1a1a" stroke="#1a1a1a" stroke-width="0.13">1</text>
<line x1="135.40" y1="258.56" x2="137.10" y2="258.56" stroke="#222222" stroke-width="0.8"/>
<text x="141.10" y="261.55" font-size="8.3" text-anchor="start" font-weight="normal" fill="#1a1a1a" stroke="#1a1a1a" stroke-width="0.13">2</text>
<line x1="135.40" y1="244.54" x2="137.10" y2="244.54" stroke="#222222" stroke-width="0.8"/>
<text x="141.10" y="247.53" font-size="8.3" text-anchor="start" font-weight="normal" fill="#1a1a1a" stroke="#1a1a1a" stroke-width="0.13">3</text>
<line x1="135.40" y1="230.52" x2="137.10" y2="230.52" stroke="#222222" stroke-width="0.8"/>
<text x="141.10" y="233.51" font-size="8.3" text-anchor="start" font-weight="normal" fill="#1a1a1a" stroke="#1a1a1a" stroke-width="0.13">4</text>
<line x1="135.40" y1="216.50" x2="137.10" y2="216.50" stroke="#222222" stroke-width="0.8"/>
<text x="141.10" y="219.49" font-size="8.3" text-anchor="start" font-weight="normal" fill="#1a1a1a" stroke="#1a1a1a" stroke-width="0.13">5</text>
<line x1="135.40" y1="279.59" x2="136.70" y2="279.59" stroke="#222222" stroke-width="0.6"/>
<line x1="135.40" y1="265.57" x2="136.70" y2="265.57" stroke="#222222" stroke-width="0.6"/>
<line x1="135.40" y1="251.55" x2="136.70" y2="251.55" stroke="#222222" stroke-width="0.6"/>
<line x1="135.40" y1="237.53" x2="136.70" y2="237.53" stroke="#222222" stroke-width="0.6"/>
<line x1="135.40" y1="223.51" x2="136.70" y2="223.51" stroke="#222222" stroke-width="0.6"/>
<line x1="36.40" y1="289.30" x2="36.40" y2="291.50" stroke="#222222" stroke-width="0.8"/>
<text x="36.40" y="302.19" font-size="8.3" text-anchor="middle" font-weight="normal" fill="#1a1a1a" stroke="#1a1a1a" stroke-width="0.13">0</text>
<line x1="64.60" y1="289.30" x2="64.60" y2="291.50" stroke="#222222" stroke-width="0.8"/>
<text x="64.60" y="302.19" font-size="8.3" text-anchor="middle" font-weight="normal" fill="#1a1a1a" stroke="#1a1a1a" stroke-width="0.13">200</text>
<line x1="92.80" y1="289.30" x2="92.80" y2="291.50" stroke="#222222" stroke-width="0.8"/>
<text x="92.80" y="302.19" font-size="8.3" text-anchor="middle" font-weight="normal" fill="#1a1a1a" stroke="#1a1a1a" stroke-width="0.13">400</text>
<line x1="121.00" y1="289.30" x2="121.00" y2="291.50" stroke="#222222" stroke-width="0.8"/>
<text x="121.00" y="302.19" font-size="8.3" text-anchor="middle" font-weight="normal" fill="#1a1a1a" stroke="#1a1a1a" stroke-width="0.13">600</text>
<line x1="50.50" y1="289.30" x2="50.50" y2="290.60" stroke="#222222" stroke-width="0.6"/>
<line x1="78.70" y1="289.30" x2="78.70" y2="290.60" stroke="#222222" stroke-width="0.6"/>
<line x1="106.90" y1="289.30" x2="106.90" y2="290.60" stroke="#222222" stroke-width="0.6"/>
<text x="83.95" y="315.10" font-size="8.9" text-anchor="middle" font-weight="normal" fill="#1a1a1a" stroke="#1a1a1a" stroke-width="0.13">Time (s)</text>
<text x="0" y="3.20" font-size="8.9" text-anchor="middle" fill="#1a1a1a" stroke="#1a1a1a" stroke-width="0.13" transform="translate(5.50 247.35) rotate(-90)">Output voltage (mV)</text>
<text x="0" y="3.20" font-size="8.9" text-anchor="middle" fill="#1a1a1a" stroke="#1a1a1a" stroke-width="0.13" transform="translate(156.90 247.35) rotate(-90)">Pressure (MPa)</text>
<line x1="34.00" y1="208.90" x2="48.00" y2="208.90" stroke="#f69494" stroke-width="1.2"/>
<text x="51.00" y="210.86" font-size="7.4" text-anchor="start" font-weight="bold" fill="#1a1a1a" stroke="#1a1a1a" stroke-width="0">Scheme A</text>
<line x1="37.10" y1="243.60" x2="43.00" y2="243.60" stroke="#f48080" stroke-width="1.4"/>
<polygon points="34.30,243.60 37.90,241.62 37.90,245.58" fill="#f48080" stroke="none" stroke-width="1" stroke-linejoin="round"/>
<line x1="125.50" y1="243.80" x2="130.80" y2="243.80" stroke="#80c4dc" stroke-width="1.3"/>
<polygon points="133.60,243.80 130.20,241.93 130.20,245.67" fill="#80c4dc" stroke="none" stroke-width="1" stroke-linejoin="round"/>
<rect x="207.70" y="284.30" width="7.10" height="5.00" fill="#d6e9f0" stroke="none" stroke-width="1" rx="0"/>
<rect x="220.90" y="271.10" width="6.10" height="18.20" fill="#d6e9f0" stroke="none" stroke-width="1" rx="0"/>
<rect x="228.90" y="257.00" width="6.40" height="32.30" fill="#d6e9f0" stroke="none" stroke-width="1" rx="0"/>
<rect x="238.10" y="243.30" width="8.80" height="46.00" fill="#d6e9f0" stroke="none" stroke-width="1" rx="0"/>
<rect x="249.00" y="229.40" width="6.40" height="59.90" fill="#d6e9f0" stroke="none" stroke-width="1" rx="0"/>
<rect x="257.00" y="215.20" width="6.00" height="74.10" fill="#d6e9f0" stroke="none" stroke-width="1" rx="0"/>
<rect x="265.00" y="229.40" width="7.60" height="59.90" fill="#d6e9f0" stroke="none" stroke-width="1" rx="0"/>
<rect x="274.20" y="243.30" width="6.10" height="46.00" fill="#d6e9f0" stroke="none" stroke-width="1" rx="0"/>
<rect x="283.00" y="257.00" width="6.10" height="32.30" fill="#d6e9f0" stroke="none" stroke-width="1" rx="0"/>
<rect x="291.00" y="271.10" width="5.40" height="18.20" fill="#d6e9f0" stroke="none" stroke-width="1" rx="0"/>
<rect x="298.80" y="284.30" width="5.90" height="5.00" fill="#d6e9f0" stroke="none" stroke-width="1" rx="0"/>
<polyline points="207.70,283.50 214.80,283.50 220.90,270.30 227.00,270.30 228.90,256.20 235.30,256.20 238.10,242.50 246.90,242.50 249.00,228.60 255.40,228.60 257.00,214.40 263.00,214.40 265.00,228.60 272.60,228.60 274.20,242.50 280.30,242.50 283.00,256.20 289.10,256.20 291.00,270.30 296.40,270.30 298.80,283.50 304.70,283.50" fill="none" stroke="#f69494" stroke-width="1.25" stroke-linejoin="round"/>
<line x1="201.90" y1="202.60" x2="306.60" y2="202.60" stroke="#222222" stroke-width="1.0"/>
<line x1="201.90" y1="289.30" x2="306.60" y2="289.30" stroke="#222222" stroke-width="1.0"/>
<line x1="204.30" y1="202.60" x2="204.30" y2="289.30" stroke="#222222" stroke-width="1.0"/>
<line x1="306.60" y1="202.60" x2="306.60" y2="289.30" stroke="#222222" stroke-width="1.0"/>
<line x1="202.60" y1="284.00" x2="204.30" y2="284.00" stroke="#222222" stroke-width="0.8"/>
<text x="198.40" y="286.99" font-size="8.3" text-anchor="end" font-weight="normal" fill="#1a1a1a" stroke="#1a1a1a" stroke-width="0.13">0</text>
<line x1="202.60" y1="273.25" x2="204.30" y2="273.25" stroke="#222222" stroke-width="0.8"/>
<text x="198.40" y="276.24" font-size="8.3" text-anchor="end" font-weight="normal" fill="#1a1a1a" stroke="#1a1a1a" stroke-width="0.13">5</text>
<line x1="202.60" y1="262.50" x2="204.30" y2="262.50" stroke="#222222" stroke-width="0.8"/>
<text x="198.40" y="265.49" font-size="8.3" text-anchor="end" font-weight="normal" fill="#1a1a1a" stroke="#1a1a1a" stroke-width="0.13">10</text>
<line x1="202.60" y1="251.75" x2="204.30" y2="251.75" stroke="#222222" stroke-width="0.8"/>
<text x="198.40" y="254.74" font-size="8.3" text-anchor="end" font-weight="normal" fill="#1a1a1a" stroke="#1a1a1a" stroke-width="0.13">15</text>
<line x1="202.60" y1="241.00" x2="204.30" y2="241.00" stroke="#222222" stroke-width="0.8"/>
<text x="198.40" y="243.99" font-size="8.3" text-anchor="end" font-weight="normal" fill="#1a1a1a" stroke="#1a1a1a" stroke-width="0.13">20</text>
<line x1="202.60" y1="230.25" x2="204.30" y2="230.25" stroke="#222222" stroke-width="0.8"/>
<text x="198.40" y="233.24" font-size="8.3" text-anchor="end" font-weight="normal" fill="#1a1a1a" stroke="#1a1a1a" stroke-width="0.13">25</text>
<line x1="202.60" y1="219.50" x2="204.30" y2="219.50" stroke="#222222" stroke-width="0.8"/>
<text x="198.40" y="222.49" font-size="8.3" text-anchor="end" font-weight="normal" fill="#1a1a1a" stroke="#1a1a1a" stroke-width="0.13">30</text>
<line x1="202.60" y1="208.75" x2="204.30" y2="208.75" stroke="#222222" stroke-width="0.8"/>
<text x="198.40" y="211.74" font-size="8.3" text-anchor="end" font-weight="normal" fill="#1a1a1a" stroke="#1a1a1a" stroke-width="0.13">35</text>
<line x1="203.00" y1="278.62" x2="204.30" y2="278.62" stroke="#222222" stroke-width="0.6"/>
<line x1="203.00" y1="267.88" x2="204.30" y2="267.88" stroke="#222222" stroke-width="0.6"/>
<line x1="203.00" y1="257.12" x2="204.30" y2="257.12" stroke="#222222" stroke-width="0.6"/>
<line x1="203.00" y1="246.38" x2="204.30" y2="246.38" stroke="#222222" stroke-width="0.6"/>
<line x1="203.00" y1="235.62" x2="204.30" y2="235.62" stroke="#222222" stroke-width="0.6"/>
<line x1="203.00" y1="224.88" x2="204.30" y2="224.88" stroke="#222222" stroke-width="0.6"/>
<line x1="203.00" y1="214.12" x2="204.30" y2="214.12" stroke="#222222" stroke-width="0.6"/>
<line x1="203.00" y1="203.38" x2="204.30" y2="203.38" stroke="#222222" stroke-width="0.6"/>
<line x1="306.60" y1="284.40" x2="308.30" y2="284.40" stroke="#222222" stroke-width="0.8"/>
<text x="312.30" y="287.39" font-size="8.3" text-anchor="start" font-weight="normal" fill="#1a1a1a" stroke="#1a1a1a" stroke-width="0.13">0</text>
<line x1="306.60" y1="270.24" x2="308.30" y2="270.24" stroke="#222222" stroke-width="0.8"/>
<text x="312.30" y="273.23" font-size="8.3" text-anchor="start" font-weight="normal" fill="#1a1a1a" stroke="#1a1a1a" stroke-width="0.13">1</text>
<line x1="306.60" y1="256.08" x2="308.30" y2="256.08" stroke="#222222" stroke-width="0.8"/>
<text x="312.30" y="259.07" font-size="8.3" text-anchor="start" font-weight="normal" fill="#1a1a1a" stroke="#1a1a1a" stroke-width="0.13">2</text>
<line x1="306.60" y1="241.92" x2="308.30" y2="241.92" stroke="#222222" stroke-width="0.8"/>
<text x="312.30" y="244.91" font-size="8.3" text-anchor="start" font-weight="normal" fill="#1a1a1a" stroke="#1a1a1a" stroke-width="0.13">3</text>
<line x1="306.60" y1="227.76" x2="308.30" y2="227.76" stroke="#222222" stroke-width="0.8"/>
<text x="312.30" y="230.75" font-size="8.3" text-anchor="start" font-weight="normal" fill="#1a1a1a" stroke="#1a1a1a" stroke-width="0.13">4</text>
<line x1="306.60" y1="213.60" x2="308.30" y2="213.60" stroke="#222222" stroke-width="0.8"/>
<text x="312.30" y="216.59" font-size="8.3" text-anchor="start" font-weight="normal" fill="#1a1a1a" stroke="#1a1a1a" stroke-width="0.13">5</text>
<line x1="306.60" y1="277.32" x2="307.90" y2="277.32" stroke="#222222" stroke-width="0.6"/>
<line x1="306.60" y1="263.16" x2="307.90" y2="263.16" stroke="#222222" stroke-width="0.6"/>
<line x1="306.60" y1="249.00" x2="307.90" y2="249.00" stroke="#222222" stroke-width="0.6"/>
<line x1="306.60" y1="234.84" x2="307.90" y2="234.84" stroke="#222222" stroke-width="0.6"/>
<line x1="306.60" y1="220.68" x2="307.90" y2="220.68" stroke="#222222" stroke-width="0.6"/>
<line x1="208.00" y1="289.30" x2="208.00" y2="291.50" stroke="#222222" stroke-width="0.8"/>
<text x="208.00" y="302.19" font-size="8.3" text-anchor="middle" font-weight="normal" fill="#1a1a1a" stroke="#1a1a1a" stroke-width="0.13">0</text>
<line x1="236.70" y1="289.30" x2="236.70" y2="291.50" stroke="#222222" stroke-width="0.8"/>
<text x="236.70" y="302.19" font-size="8.3" text-anchor="middle" font-weight="normal" fill="#1a1a1a" stroke="#1a1a1a" stroke-width="0.13">200</text>
<line x1="265.40" y1="289.30" x2="265.40" y2="291.50" stroke="#222222" stroke-width="0.8"/>
<text x="265.40" y="302.19" font-size="8.3" text-anchor="middle" font-weight="normal" fill="#1a1a1a" stroke="#1a1a1a" stroke-width="0.13">400</text>
<line x1="294.10" y1="289.30" x2="294.10" y2="291.50" stroke="#222222" stroke-width="0.8"/>
<text x="294.10" y="302.19" font-size="8.3" text-anchor="middle" font-weight="normal" fill="#1a1a1a" stroke="#1a1a1a" stroke-width="0.13">600</text>
<line x1="222.35" y1="289.30" x2="222.35" y2="290.60" stroke="#222222" stroke-width="0.6"/>
<line x1="251.05" y1="289.30" x2="251.05" y2="290.60" stroke="#222222" stroke-width="0.6"/>
<line x1="279.75" y1="289.30" x2="279.75" y2="290.60" stroke="#222222" stroke-width="0.6"/>
<text x="255.45" y="315.10" font-size="8.9" text-anchor="middle" font-weight="normal" fill="#1a1a1a" stroke="#1a1a1a" stroke-width="0.13">Time (s)</text>
<text x="0" y="3.20" font-size="8.9" text-anchor="middle" fill="#1a1a1a" stroke="#1a1a1a" stroke-width="0.13" transform="translate(177.30 247.45) rotate(-90)">Output voltage (mV)</text>
<text x="0" y="3.20" font-size="8.9" text-anchor="middle" fill="#1a1a1a" stroke="#1a1a1a" stroke-width="0.13" transform="translate(328.10 247.45) rotate(-90)">Pressure (MPa)</text>
<line x1="206.40" y1="208.90" x2="219.30" y2="208.90" stroke="#f69494" stroke-width="1.2"/>
<text x="222.50" y="210.86" font-size="7.4" text-anchor="start" font-weight="bold" fill="#1a1a1a" stroke="#1a1a1a" stroke-width="0">Scheme B</text>
<line x1="209.20" y1="243.90" x2="214.50" y2="243.90" stroke="#f48080" stroke-width="1.4"/>
<polygon points="206.40,243.90 210.00,241.92 210.00,245.88" fill="#f48080" stroke="none" stroke-width="1" stroke-linejoin="round"/>
<line x1="298.00" y1="243.90" x2="302.40" y2="243.90" stroke="#80c4dc" stroke-width="1.3"/>
<polygon points="305.20,243.90 301.80,242.03 301.80,245.77" fill="#80c4dc" stroke="none" stroke-width="1" stroke-linejoin="round"/>
<rect x="381.30" y="286.70" width="6.40" height="2.60" fill="#d6e9f0" stroke="none" stroke-width="1" rx="0"/>
<rect x="395.00" y="273.90" width="5.90" height="15.40" fill="#d6e9f0" stroke="none" stroke-width="1" rx="0"/>
<rect x="403.80" y="260.20" width="6.30" height="29.10" fill="#d6e9f0" stroke="none" stroke-width="1" rx="0"/>
<rect x="412.10" y="246.10" width="6.50" height="43.20" fill="#d6e9f0" stroke="none" stroke-width="1" rx="0"/>
<rect x="420.50" y="231.30" width="6.90" height="58.00" fill="#d6e9f0" stroke="none" stroke-width="1" rx="0"/>
<rect x="429.00" y="216.00" width="7.20" height="73.30" fill="#d6e9f0" stroke="none" stroke-width="1" rx="0"/>
<rect x="437.40" y="231.30" width="6.10" height="58.00" fill="#d6e9f0" stroke="none" stroke-width="1" rx="0"/>
<rect x="445.60" y="246.10" width="6.20" height="43.20" fill="#d6e9f0" stroke="none" stroke-width="1" rx="0"/>
<rect x="453.90" y="260.20" width="5.60" height="29.10" fill="#d6e9f0" stroke="none" stroke-width="1" rx="0"/>
<rect x="461.90" y="273.90" width="6.50" height="15.40" fill="#d6e9f0" stroke="none" stroke-width="1" rx="0"/>
<rect x="470.80" y="286.70" width="8.00" height="2.60" fill="#d6e9f0" stroke="none" stroke-width="1" rx="0"/>
<polyline points="381.30,285.90 387.70,285.90 395.00,273.10 400.90,273.10 403.80,259.40 410.10,259.40 412.10,245.30 418.60,245.30 420.50,230.50 427.40,230.50 429.00,215.20 436.20,215.20 436.90,235.80 437.40,230.50 443.50,230.50 445.60,245.30 451.80,245.30 453.90,259.40 459.50,259.40 461.90,273.10 468.40,273.10 470.80,285.90 478.80,285.90" fill="none" stroke="#f69494" stroke-width="1.25" stroke-linejoin="round"/>
<line x1="375.10" y1="202.40" x2="480.40" y2="202.40" stroke="#222222" stroke-width="1.0"/>
<line x1="375.10" y1="289.30" x2="480.40" y2="289.30" stroke="#222222" stroke-width="1.0"/>
<line x1="377.50" y1="202.40" x2="377.50" y2="289.30" stroke="#222222" stroke-width="1.0"/>
<line x1="480.40" y1="202.40" x2="480.40" y2="289.30" stroke="#222222" stroke-width="1.0"/>
<line x1="375.80" y1="286.00" x2="377.50" y2="286.00" stroke="#222222" stroke-width="0.8"/>
<text x="371.60" y="288.99" font-size="8.3" text-anchor="end" font-weight="normal" fill="#1a1a1a" stroke="#1a1a1a" stroke-width="0.13">0</text>
<line x1="375.80" y1="272.07" x2="377.50" y2="272.07" stroke="#222222" stroke-width="0.8"/>
<text x="371.60" y="275.06" font-size="8.3" text-anchor="end" font-weight="normal" fill="#1a1a1a" stroke="#1a1a1a" stroke-width="0.13">10</text>
<line x1="375.80" y1="258.14" x2="377.50" y2="258.14" stroke="#222222" stroke-width="0.8"/>
<text x="371.60" y="261.13" font-size="8.3" text-anchor="end" font-weight="normal" fill="#1a1a1a" stroke="#1a1a1a" stroke-width="0.13">20</text>
<line x1="375.80" y1="244.21" x2="377.50" y2="244.21" stroke="#222222" stroke-width="0.8"/>
<text x="371.60" y="247.20" font-size="8.3" text-anchor="end" font-weight="normal" fill="#1a1a1a" stroke="#1a1a1a" stroke-width="0.13">30</text>
<line x1="375.80" y1="230.28" x2="377.50" y2="230.28" stroke="#222222" stroke-width="0.8"/>
<text x="371.60" y="233.27" font-size="8.3" text-anchor="end" font-weight="normal" fill="#1a1a1a" stroke="#1a1a1a" stroke-width="0.13">40</text>
<line x1="375.80" y1="216.35" x2="377.50" y2="216.35" stroke="#222222" stroke-width="0.8"/>
<text x="371.60" y="219.34" font-size="8.3" text-anchor="end" font-weight="normal" fill="#1a1a1a" stroke="#1a1a1a" stroke-width="0.13">50</text>
<line x1="375.80" y1="202.42" x2="377.50" y2="202.42" stroke="#222222" stroke-width="0.8"/>
<text x="371.60" y="205.41" font-size="8.3" text-anchor="end" font-weight="normal" fill="#1a1a1a" stroke="#1a1a1a" stroke-width="0.13">60</text>
<line x1="376.20" y1="279.04" x2="377.50" y2="279.04" stroke="#222222" stroke-width="0.6"/>
<line x1="376.20" y1="265.11" x2="377.50" y2="265.11" stroke="#222222" stroke-width="0.6"/>
<line x1="376.20" y1="251.18" x2="377.50" y2="251.18" stroke="#222222" stroke-width="0.6"/>
<line x1="376.20" y1="237.25" x2="377.50" y2="237.25" stroke="#222222" stroke-width="0.6"/>
<line x1="376.20" y1="223.31" x2="377.50" y2="223.31" stroke="#222222" stroke-width="0.6"/>
<line x1="376.20" y1="209.38" x2="377.50" y2="209.38" stroke="#222222" stroke-width="0.6"/>
<line x1="480.40" y1="286.00" x2="482.10" y2="286.00" stroke="#222222" stroke-width="0.8"/>
<text x="486.10" y="288.99" font-size="8.3" text-anchor="start" font-weight="normal" fill="#1a1a1a" stroke="#1a1a1a" stroke-width="0.13">0</text>
<line x1="480.40" y1="271.68" x2="482.10" y2="271.68" stroke="#222222" stroke-width="0.8"/>
<text x="486.10" y="274.67" font-size="8.3" text-anchor="start" font-weight="normal" fill="#1a1a1a" stroke="#1a1a1a" stroke-width="0.13">1</text>
<line x1="480.40" y1="257.36" x2="482.10" y2="257.36" stroke="#222222" stroke-width="0.8"/>
<text x="486.10" y="260.35" font-size="8.3" text-anchor="start" font-weight="normal" fill="#1a1a1a" stroke="#1a1a1a" stroke-width="0.13">2</text>
<line x1="480.40" y1="243.04" x2="482.10" y2="243.04" stroke="#222222" stroke-width="0.8"/>
<text x="486.10" y="246.03" font-size="8.3" text-anchor="start" font-weight="normal" fill="#1a1a1a" stroke="#1a1a1a" stroke-width="0.13">3</text>
<line x1="480.40" y1="228.72" x2="482.10" y2="228.72" stroke="#222222" stroke-width="0.8"/>
<text x="486.10" y="231.71" font-size="8.3" text-anchor="start" font-weight="normal" fill="#1a1a1a" stroke="#1a1a1a" stroke-width="0.13">4</text>
<line x1="480.40" y1="214.40" x2="482.10" y2="214.40" stroke="#222222" stroke-width="0.8"/>
<text x="486.10" y="217.39" font-size="8.3" text-anchor="start" font-weight="normal" fill="#1a1a1a" stroke="#1a1a1a" stroke-width="0.13">5</text>
<line x1="480.40" y1="278.84" x2="481.70" y2="278.84" stroke="#222222" stroke-width="0.6"/>
<line x1="480.40" y1="264.52" x2="481.70" y2="264.52" stroke="#222222" stroke-width="0.6"/>
<line x1="480.40" y1="250.20" x2="481.70" y2="250.20" stroke="#222222" stroke-width="0.6"/>
<line x1="480.40" y1="235.88" x2="481.70" y2="235.88" stroke="#222222" stroke-width="0.6"/>
<line x1="480.40" y1="221.56" x2="481.70" y2="221.56" stroke="#222222" stroke-width="0.6"/>
<line x1="381.30" y1="289.30" x2="381.30" y2="291.50" stroke="#222222" stroke-width="0.8"/>
<text x="381.30" y="302.19" font-size="8.3" text-anchor="middle" font-weight="normal" fill="#1a1a1a" stroke="#1a1a1a" stroke-width="0.13">0</text>
<line x1="409.70" y1="289.30" x2="409.70" y2="291.50" stroke="#222222" stroke-width="0.8"/>
<text x="409.70" y="302.19" font-size="8.3" text-anchor="middle" font-weight="normal" fill="#1a1a1a" stroke="#1a1a1a" stroke-width="0.13">200</text>
<line x1="438.10" y1="289.30" x2="438.10" y2="291.50" stroke="#222222" stroke-width="0.8"/>
<text x="438.10" y="302.19" font-size="8.3" text-anchor="middle" font-weight="normal" fill="#1a1a1a" stroke="#1a1a1a" stroke-width="0.13">400</text>
<line x1="466.50" y1="289.30" x2="466.50" y2="291.50" stroke="#222222" stroke-width="0.8"/>
<text x="466.50" y="302.19" font-size="8.3" text-anchor="middle" font-weight="normal" fill="#1a1a1a" stroke="#1a1a1a" stroke-width="0.13">600</text>
<line x1="395.50" y1="289.30" x2="395.50" y2="290.60" stroke="#222222" stroke-width="0.6"/>
<line x1="423.90" y1="289.30" x2="423.90" y2="290.60" stroke="#222222" stroke-width="0.6"/>
<line x1="452.30" y1="289.30" x2="452.30" y2="290.60" stroke="#222222" stroke-width="0.6"/>
<text x="428.95" y="315.10" font-size="8.9" text-anchor="middle" font-weight="normal" fill="#1a1a1a" stroke="#1a1a1a" stroke-width="0.13">Time (s)</text>
<text x="0" y="3.20" font-size="8.9" text-anchor="middle" fill="#1a1a1a" stroke="#1a1a1a" stroke-width="0.13" transform="translate(350.50 247.35) rotate(-90)">Output voltage (mV)</text>
<text x="0" y="3.20" font-size="8.9" text-anchor="middle" fill="#1a1a1a" stroke="#1a1a1a" stroke-width="0.13" transform="translate(501.90 247.35) rotate(-90)">Pressure (MPa)</text>
<line x1="379.20" y1="208.90" x2="392.90" y2="208.90" stroke="#f69494" stroke-width="1.2"/>
<text x="396.10" y="210.86" font-size="7.4" text-anchor="start" font-weight="bold" fill="#1a1a1a" stroke="#1a1a1a" stroke-width="0">Scheme C</text>
<line x1="382.00" y1="245.10" x2="387.60" y2="245.10" stroke="#f01414" stroke-width="1.4"/>
<polygon points="379.20,245.10 382.80,243.12 382.80,247.08" fill="#f01414" stroke="none" stroke-width="1" stroke-linejoin="round"/>
<line x1="469.20" y1="245.10" x2="475.20" y2="245.10" stroke="#80c4dc" stroke-width="1.3"/>
<polygon points="478.00,245.10 474.60,243.23 474.60,246.97" fill="#80c4dc" stroke="none" stroke-width="1" stroke-linejoin="round"/>
<rect x="550.00" y="285.90" width="6.80" height="3.40" fill="#d6e9f0" stroke="none" stroke-width="1" rx="0"/>
<rect x="565.30" y="273.00" width="6.70" height="16.30" fill="#d6e9f0" stroke="none" stroke-width="1" rx="0"/>
<rect x="574.10" y="259.40" width="6.40" height="29.90" fill="#d6e9f0" stroke="none" stroke-width="1" rx="0"/>
<rect x="582.10" y="245.70" width="6.50" height="43.60" fill="#d6e9f0" stroke="none" stroke-width="1" rx="0"/>
<rect x="589.90" y="231.60" width="6.70" height="57.70" fill="#d6e9f0" stroke="none" stroke-width="1" rx="0"/>
<rect x="598.20" y="217.60" width="6.40" height="71.70" fill="#d6e9f0" stroke="none" stroke-width="1" rx="0"/>
<rect x="605.90" y="231.60" width="5.50" height="57.70" fill="#d6e9f0" stroke="none" stroke-width="1" rx="0"/>
<rect x="612.70" y="245.70" width="5.90" height="43.60" fill="#d6e9f0" stroke="none" stroke-width="1" rx="0"/>
<rect x="620.70" y="259.40" width="7.20" height="29.90" fill="#d6e9f0" stroke="none" stroke-width="1" rx="0"/>
<rect x="629.50" y="273.00" width="5.30" height="16.30" fill="#d6e9f0" stroke="none" stroke-width="1" rx="0"/>
<rect x="638.00" y="285.90" width="9.20" height="3.40" fill="#d6e9f0" stroke="none" stroke-width="1" rx="0"/>
<polyline points="550.00,285.10 556.80,285.10 565.30,272.20 572.00,272.20 574.10,258.60 580.50,258.60 582.10,244.90 588.60,244.90 589.90,230.80 596.60,230.80 598.20,216.80 604.60,216.80 605.90,230.80 611.40,230.80 612.70,244.90 618.60,244.90 620.70,258.60 627.90,258.60 629.50,272.20 634.80,272.20 638.00,285.10 647.20,285.10" fill="none" stroke="#f69494" stroke-width="1.25" stroke-linejoin="round"/>
<line x1="544.50" y1="202.40" x2="649.50" y2="202.40" stroke="#222222" stroke-width="1.0"/>
<line x1="544.50" y1="289.30" x2="649.50" y2="289.30" stroke="#222222" stroke-width="1.0"/>
<line x1="546.90" y1="202.40" x2="546.90" y2="289.30" stroke="#444" stroke-width="1.3"/>
<line x1="649.50" y1="202.40" x2="649.50" y2="289.30" stroke="#222222" stroke-width="1.0"/>
<line x1="545.20" y1="285.40" x2="546.90" y2="285.40" stroke="#222222" stroke-width="0.8"/>
<text x="541.00" y="288.39" font-size="8.3" text-anchor="end" font-weight="normal" fill="#1a1a1a" stroke="#1a1a1a" stroke-width="0.13">0</text>
<line x1="545.20" y1="270.20" x2="546.90" y2="270.20" stroke="#222222" stroke-width="0.8"/>
<text x="541.00" y="273.19" font-size="8.3" text-anchor="end" font-weight="normal" fill="#1a1a1a" stroke="#1a1a1a" stroke-width="0.13">10</text>
<line x1="545.20" y1="255.00" x2="546.90" y2="255.00" stroke="#222222" stroke-width="0.8"/>
<text x="541.00" y="257.99" font-size="8.3" text-anchor="end" font-weight="normal" fill="#1a1a1a" stroke="#1a1a1a" stroke-width="0.13">20</text>
<line x1="545.20" y1="239.80" x2="546.90" y2="239.80" stroke="#222222" stroke-width="0.8"/>
<text x="541.00" y="242.79" font-size="8.3" text-anchor="end" font-weight="normal" fill="#1a1a1a" stroke="#1a1a1a" stroke-width="0.13">30</text>
<line x1="545.20" y1="224.60" x2="546.90" y2="224.60" stroke="#222222" stroke-width="0.8"/>
<text x="541.00" y="227.59" font-size="8.3" text-anchor="end" font-weight="normal" fill="#1a1a1a" stroke="#1a1a1a" stroke-width="0.13">40</text>
<line x1="545.20" y1="209.40" x2="546.90" y2="209.40" stroke="#222222" stroke-width="0.8"/>
<text x="541.00" y="212.39" font-size="8.3" text-anchor="end" font-weight="normal" fill="#1a1a1a" stroke="#1a1a1a" stroke-width="0.13">50</text>
<line x1="545.60" y1="277.80" x2="546.90" y2="277.80" stroke="#222222" stroke-width="0.6"/>
<line x1="545.60" y1="262.60" x2="546.90" y2="262.60" stroke="#222222" stroke-width="0.6"/>
<line x1="545.60" y1="247.40" x2="546.90" y2="247.40" stroke="#222222" stroke-width="0.6"/>
<line x1="545.60" y1="232.20" x2="546.90" y2="232.20" stroke="#222222" stroke-width="0.6"/>
<line x1="545.60" y1="217.00" x2="546.90" y2="217.00" stroke="#222222" stroke-width="0.6"/>
<line x1="649.50" y1="285.70" x2="651.20" y2="285.70" stroke="#222222" stroke-width="0.8"/>
<text x="655.20" y="288.69" font-size="8.3" text-anchor="start" font-weight="normal" fill="#1a1a1a" stroke="#1a1a1a" stroke-width="0.13">0</text>
<line x1="649.50" y1="271.66" x2="651.20" y2="271.66" stroke="#222222" stroke-width="0.8"/>
<text x="655.20" y="274.65" font-size="8.3" text-anchor="start" font-weight="normal" fill="#1a1a1a" stroke="#1a1a1a" stroke-width="0.13">1</text>
<line x1="649.50" y1="257.62" x2="651.20" y2="257.62" stroke="#222222" stroke-width="0.8"/>
<text x="655.20" y="260.61" font-size="8.3" text-anchor="start" font-weight="normal" fill="#1a1a1a" stroke="#1a1a1a" stroke-width="0.13">2</text>
<line x1="649.50" y1="243.58" x2="651.20" y2="243.58" stroke="#222222" stroke-width="0.8"/>
<text x="655.20" y="246.57" font-size="8.3" text-anchor="start" font-weight="normal" fill="#1a1a1a" stroke="#1a1a1a" stroke-width="0.13">3</text>
<line x1="649.50" y1="229.54" x2="651.20" y2="229.54" stroke="#222222" stroke-width="0.8"/>
<text x="655.20" y="232.53" font-size="8.3" text-anchor="start" font-weight="normal" fill="#1a1a1a" stroke="#1a1a1a" stroke-width="0.13">4</text>
<line x1="649.50" y1="215.50" x2="651.20" y2="215.50" stroke="#222222" stroke-width="0.8"/>
<text x="655.20" y="218.49" font-size="8.3" text-anchor="start" font-weight="normal" fill="#1a1a1a" stroke="#1a1a1a" stroke-width="0.13">5</text>
<line x1="649.50" y1="278.68" x2="650.80" y2="278.68" stroke="#222222" stroke-width="0.6"/>
<line x1="649.50" y1="264.64" x2="650.80" y2="264.64" stroke="#222222" stroke-width="0.6"/>
<line x1="649.50" y1="250.60" x2="650.80" y2="250.60" stroke="#222222" stroke-width="0.6"/>
<line x1="649.50" y1="236.56" x2="650.80" y2="236.56" stroke="#222222" stroke-width="0.6"/>
<line x1="649.50" y1="222.52" x2="650.80" y2="222.52" stroke="#222222" stroke-width="0.6"/>
<line x1="550.40" y1="289.30" x2="550.40" y2="291.50" stroke="#222222" stroke-width="0.8"/>
<text x="550.40" y="302.19" font-size="8.3" text-anchor="middle" font-weight="normal" fill="#1a1a1a" stroke="#1a1a1a" stroke-width="0.13">0</text>
<line x1="578.80" y1="289.30" x2="578.80" y2="291.50" stroke="#222222" stroke-width="0.8"/>
<text x="578.80" y="302.19" font-size="8.3" text-anchor="middle" font-weight="normal" fill="#1a1a1a" stroke="#1a1a1a" stroke-width="0.13">200</text>
<line x1="607.20" y1="289.30" x2="607.20" y2="291.50" stroke="#222222" stroke-width="0.8"/>
<text x="607.20" y="302.19" font-size="8.3" text-anchor="middle" font-weight="normal" fill="#1a1a1a" stroke="#1a1a1a" stroke-width="0.13">400</text>
<line x1="635.60" y1="289.30" x2="635.60" y2="291.50" stroke="#222222" stroke-width="0.8"/>
<text x="635.60" y="302.19" font-size="8.3" text-anchor="middle" font-weight="normal" fill="#1a1a1a" stroke="#1a1a1a" stroke-width="0.13">600</text>
<line x1="564.60" y1="289.30" x2="564.60" y2="290.60" stroke="#222222" stroke-width="0.6"/>
<line x1="593.00" y1="289.30" x2="593.00" y2="290.60" stroke="#222222" stroke-width="0.6"/>
<line x1="621.40" y1="289.30" x2="621.40" y2="290.60" stroke="#222222" stroke-width="0.6"/>
<text x="598.20" y="315.10" font-size="8.9" text-anchor="middle" font-weight="normal" fill="#1a1a1a" stroke="#1a1a1a" stroke-width="0.13">Time (s)</text>
<text x="0" y="3.20" font-size="8.9" text-anchor="middle" fill="#1a1a1a" stroke="#1a1a1a" stroke-width="0.13" transform="translate(519.90 247.35) rotate(-90)">Output voltage (mV)</text>
<text x="0" y="3.20" font-size="8.9" text-anchor="middle" fill="#1a1a1a" stroke="#1a1a1a" stroke-width="0.13" transform="translate(671.00 247.35) rotate(-90)">Pressure (MPa)</text>
<line x1="548.40" y1="208.90" x2="562.10" y2="208.90" stroke="#f69494" stroke-width="1.2"/>
<text x="565.30" y="210.86" font-size="7.4" text-anchor="start" font-weight="bold" fill="#1a1a1a" stroke="#1a1a1a" stroke-width="0">Scheme D</text>
<line x1="550.40" y1="244.80" x2="555.70" y2="244.80" stroke="#f01414" stroke-width="1.4"/>
<polygon points="547.60,244.80 551.20,242.82 551.20,246.78" fill="#f01414" stroke="none" stroke-width="1" stroke-linejoin="round"/>
<line x1="640.30" y1="244.80" x2="645.20" y2="244.80" stroke="#80c4dc" stroke-width="1.3"/>
<polygon points="648.00,244.80 644.60,242.93 644.60,246.67" fill="#80c4dc" stroke="none" stroke-width="1" stroke-linejoin="round"/>
<rect x="36.10" y="416.70" width="5.90" height="3.20" fill="#d6e9f0" stroke="none" stroke-width="1" rx="0"/>
<rect x="49.30" y="402.60" width="6.40" height="17.30" fill="#d6e9f0" stroke="none" stroke-width="1" rx="0"/>
<rect x="58.90" y="388.10" width="6.10" height="31.80" fill="#d6e9f0" stroke="none" stroke-width="1" rx="0"/>
<rect x="67.30" y="373.70" width="6.90" height="46.20" fill="#d6e9f0" stroke="none" stroke-width="1" rx="0"/>
<rect x="75.30" y="358.40" width="6.90" height="61.50" fill="#d6e9f0" stroke="none" stroke-width="1" rx="0"/>
<rect x="83.50" y="342.80" width="7.20" height="77.10" fill="#d6e9f0" stroke="none" stroke-width="1" rx="0"/>
<rect x="91.80" y="358.40" width="7.60" height="61.50" fill="#d6e9f0" stroke="none" stroke-width="1" rx="0"/>
<rect x="100.30" y="373.70" width="6.50" height="46.20" fill="#d6e9f0" stroke="none" stroke-width="1" rx="0"/>
<rect x="107.90" y="388.10" width="5.60" height="31.80" fill="#d6e9f0" stroke="none" stroke-width="1" rx="0"/>
<rect x="117.00" y="402.60" width="6.10" height="17.30" fill="#d6e9f0" stroke="none" stroke-width="1" rx="0"/>
<rect x="124.70" y="416.70" width="10.50" height="3.20" fill="#d6e9f0" stroke="none" stroke-width="1" rx="0"/>
<polyline points="36.10,415.90 42.00,415.90 49.30,401.80 55.70,401.80 58.90,387.30 65.00,387.30 67.30,372.90 74.20,372.90 75.30,357.60 82.20,357.60 83.50,342.00 90.70,342.00 91.80,357.60 99.40,357.60 100.30,372.90 106.80,372.90 107.90,387.30 113.50,387.30 117.00,401.80 123.10,401.80 124.70,415.90 135.20,415.90" fill="none" stroke="#f69494" stroke-width="1.25" stroke-linejoin="round"/>
<line x1="30.10" y1="333.10" x2="135.40" y2="333.10" stroke="#9a9a9a" stroke-width="1.3"/>
<line x1="30.10" y1="419.90" x2="135.40" y2="419.90" stroke="#555" stroke-width="1.2"/>
<line x1="32.50" y1="333.10" x2="32.50" y2="419.90" stroke="#222222" stroke-width="1.0"/>
<line x1="135.40" y1="333.10" x2="135.40" y2="419.90" stroke="#222222" stroke-width="1.0"/>
<line x1="30.80" y1="416.10" x2="32.50" y2="416.10" stroke="#222222" stroke-width="0.8"/>
<text x="26.60" y="419.09" font-size="8.3" text-anchor="end" font-weight="normal" fill="#1a1a1a" stroke="#1a1a1a" stroke-width="0.13">0</text>
<line x1="30.80" y1="400.96" x2="32.50" y2="400.96" stroke="#222222" stroke-width="0.8"/>
<text x="26.60" y="403.95" font-size="8.3" text-anchor="end" font-weight="normal" fill="#1a1a1a" stroke="#1a1a1a" stroke-width="0.13">10</text>
<line x1="30.80" y1="385.82" x2="32.50" y2="385.82" stroke="#222222" stroke-width="0.8"/>
<text x="26.60" y="388.81" font-size="8.3" text-anchor="end" font-weight="normal" fill="#1a1a1a" stroke="#1a1a1a" stroke-width="0.13">20</text>
<line x1="30.80" y1="370.68" x2="32.50" y2="370.68" stroke="#222222" stroke-width="0.8"/>
<text x="26.60" y="373.67" font-size="8.3" text-anchor="end" font-weight="normal" fill="#1a1a1a" stroke="#1a1a1a" stroke-width="0.13">30</text>
<line x1="30.80" y1="355.54" x2="32.50" y2="355.54" stroke="#222222" stroke-width="0.8"/>
<text x="26.60" y="358.53" font-size="8.3" text-anchor="end" font-weight="normal" fill="#1a1a1a" stroke="#1a1a1a" stroke-width="0.13">40</text>
<line x1="30.80" y1="340.40" x2="32.50" y2="340.40" stroke="#222222" stroke-width="0.8"/>
<text x="26.60" y="343.39" font-size="8.3" text-anchor="end" font-weight="normal" fill="#1a1a1a" stroke="#1a1a1a" stroke-width="0.13">50</text>
<line x1="31.20" y1="408.53" x2="32.50" y2="408.53" stroke="#222222" stroke-width="0.6"/>
<line x1="31.20" y1="393.39" x2="32.50" y2="393.39" stroke="#222222" stroke-width="0.6"/>
<line x1="31.20" y1="378.25" x2="32.50" y2="378.25" stroke="#222222" stroke-width="0.6"/>
<line x1="31.20" y1="363.11" x2="32.50" y2="363.11" stroke="#222222" stroke-width="0.6"/>
<line x1="31.20" y1="347.97" x2="32.50" y2="347.97" stroke="#222222" stroke-width="0.6"/>
<line x1="135.40" y1="416.40" x2="137.10" y2="416.40" stroke="#222222" stroke-width="0.8"/>
<text x="141.10" y="419.39" font-size="8.3" text-anchor="start" font-weight="normal" fill="#1a1a1a" stroke="#1a1a1a" stroke-width="0.13">0</text>
<line x1="135.40" y1="401.72" x2="137.10" y2="401.72" stroke="#222222" stroke-width="0.8"/>
<text x="141.10" y="404.71" font-size="8.3" text-anchor="start" font-weight="normal" fill="#1a1a1a" stroke="#1a1a1a" stroke-width="0.13">1</text>
<line x1="135.40" y1="387.04" x2="137.10" y2="387.04" stroke="#222222" stroke-width="0.8"/>
<text x="141.10" y="390.03" font-size="8.3" text-anchor="start" font-weight="normal" fill="#1a1a1a" stroke="#1a1a1a" stroke-width="0.13">2</text>
<line x1="135.40" y1="372.36" x2="137.10" y2="372.36" stroke="#222222" stroke-width="0.8"/>
<text x="141.10" y="375.35" font-size="8.3" text-anchor="start" font-weight="normal" fill="#1a1a1a" stroke="#1a1a1a" stroke-width="0.13">3</text>
<line x1="135.40" y1="357.68" x2="137.10" y2="357.68" stroke="#222222" stroke-width="0.8"/>
<text x="141.10" y="360.67" font-size="8.3" text-anchor="start" font-weight="normal" fill="#1a1a1a" stroke="#1a1a1a" stroke-width="0.13">4</text>
<line x1="135.40" y1="343.00" x2="137.10" y2="343.00" stroke="#222222" stroke-width="0.8"/>
<text x="141.10" y="345.99" font-size="8.3" text-anchor="start" font-weight="normal" fill="#1a1a1a" stroke="#1a1a1a" stroke-width="0.13">5</text>
<line x1="135.40" y1="409.06" x2="136.70" y2="409.06" stroke="#222222" stroke-width="0.6"/>
<line x1="135.40" y1="394.38" x2="136.70" y2="394.38" stroke="#222222" stroke-width="0.6"/>
<line x1="135.40" y1="379.70" x2="136.70" y2="379.70" stroke="#222222" stroke-width="0.6"/>
<line x1="135.40" y1="365.02" x2="136.70" y2="365.02" stroke="#222222" stroke-width="0.6"/>
<line x1="135.40" y1="350.34" x2="136.70" y2="350.34" stroke="#222222" stroke-width="0.6"/>
<line x1="36.30" y1="419.90" x2="36.30" y2="422.10" stroke="#222222" stroke-width="0.8"/>
<text x="36.30" y="432.79" font-size="8.3" text-anchor="middle" font-weight="normal" fill="#1a1a1a" stroke="#1a1a1a" stroke-width="0.13">0</text>
<line x1="64.40" y1="419.90" x2="64.40" y2="422.10" stroke="#222222" stroke-width="0.8"/>
<text x="64.40" y="432.79" font-size="8.3" text-anchor="middle" font-weight="normal" fill="#1a1a1a" stroke="#1a1a1a" stroke-width="0.13">200</text>
<line x1="92.50" y1="419.90" x2="92.50" y2="422.10" stroke="#222222" stroke-width="0.8"/>
<text x="92.50" y="432.79" font-size="8.3" text-anchor="middle" font-weight="normal" fill="#1a1a1a" stroke="#1a1a1a" stroke-width="0.13">400</text>
<line x1="120.60" y1="419.90" x2="120.60" y2="422.10" stroke="#222222" stroke-width="0.8"/>
<text x="120.60" y="432.79" font-size="8.3" text-anchor="middle" font-weight="normal" fill="#1a1a1a" stroke="#1a1a1a" stroke-width="0.13">600</text>
<line x1="50.35" y1="419.90" x2="50.35" y2="421.20" stroke="#222222" stroke-width="0.6"/>
<line x1="78.45" y1="419.90" x2="78.45" y2="421.20" stroke="#222222" stroke-width="0.6"/>
<line x1="106.55" y1="419.90" x2="106.55" y2="421.20" stroke="#222222" stroke-width="0.6"/>
<text x="83.95" y="445.70" font-size="8.9" text-anchor="middle" font-weight="normal" fill="#1a1a1a" stroke="#1a1a1a" stroke-width="0.13">Time (s)</text>
<text x="0" y="3.20" font-size="8.9" text-anchor="middle" fill="#1a1a1a" stroke="#1a1a1a" stroke-width="0.13" transform="translate(5.50 378.00) rotate(-90)">Output voltage (mV)</text>
<text x="0" y="3.20" font-size="8.9" text-anchor="middle" fill="#1a1a1a" stroke="#1a1a1a" stroke-width="0.13" transform="translate(156.90 378.00) rotate(-90)">Pressure (MPa)</text>
<line x1="33.40" y1="338.40" x2="46.90" y2="338.40" stroke="#f69494" stroke-width="1.2"/>
<text x="50.10" y="340.36" font-size="7.4" text-anchor="start" font-weight="bold" fill="#1a1a1a" stroke="#1a1a1a" stroke-width="0">Scheme E</text>
<line x1="37.30" y1="375.10" x2="42.80" y2="375.10" stroke="#f01414" stroke-width="1.4"/>
<polygon points="34.50,375.10 38.10,373.12 38.10,377.08" fill="#f01414" stroke="none" stroke-width="1" stroke-linejoin="round"/>
<line x1="126.40" y1="375.10" x2="132.40" y2="375.10" stroke="#80c4dc" stroke-width="1.3"/>
<polygon points="135.20,375.10 131.80,373.23 131.80,376.97" fill="#80c4dc" stroke="none" stroke-width="1" stroke-linejoin="round"/>
<rect x="206.70" y="414.00" width="6.10" height="5.90" fill="#d6e9f0" stroke="none" stroke-width="1" rx="0"/>
<rect x="220.10" y="400.60" width="5.60" height="19.30" fill="#d6e9f0" stroke="none" stroke-width="1" rx="0"/>
<rect x="228.10" y="387.30" width="6.10" height="32.60" fill="#d6e9f0" stroke="none" stroke-width="1" rx="0"/>
<rect x="235.30" y="373.80" width="7.30" height="46.10" fill="#d6e9f0" stroke="none" stroke-width="1" rx="0"/>
<rect x="244.60" y="360.00" width="5.50" height="59.90" fill="#d6e9f0" stroke="none" stroke-width="1" rx="0"/>
<rect x="251.10" y="346.00" width="5.40" height="73.90" fill="#d6e9f0" stroke="none" stroke-width="1" rx="0"/>
<rect x="257.80" y="360.00" width="6.90" height="59.90" fill="#d6e9f0" stroke="none" stroke-width="1" rx="0"/>
<rect x="265.50" y="373.80" width="7.60" height="46.10" fill="#d6e9f0" stroke="none" stroke-width="1" rx="0"/>
<rect x="273.90" y="387.30" width="6.90" height="32.60" fill="#d6e9f0" stroke="none" stroke-width="1" rx="0"/>
<rect x="283.00" y="400.60" width="7.70" height="19.30" fill="#d6e9f0" stroke="none" stroke-width="1" rx="0"/>
<rect x="292.80" y="414.00" width="9.70" height="5.90" fill="#d6e9f0" stroke="none" stroke-width="1" rx="0"/>
<polyline points="206.70,413.20 212.80,413.20 220.10,399.80 225.70,399.80 228.10,386.50 234.20,386.50 235.30,373.00 242.60,373.00 244.60,359.20 250.10,359.20 251.10,345.20 256.50,345.20 257.80,359.20 264.70,359.20 265.50,373.00 273.10,373.00 273.90,386.50 280.80,386.50 283.00,399.80 290.70,399.80 292.80,413.20 302.50,413.20" fill="none" stroke="#f69494" stroke-width="1.25" stroke-linejoin="round"/>
<line x1="201.90" y1="333.10" x2="306.60" y2="333.10" stroke="#9a9a9a" stroke-width="1.3"/>
<line x1="201.90" y1="419.90" x2="306.60" y2="419.90" stroke="#555" stroke-width="1.2"/>
<line x1="204.30" y1="333.10" x2="204.30" y2="419.90" stroke="#222222" stroke-width="1.0"/>
<line x1="306.60" y1="333.10" x2="306.60" y2="419.90" stroke="#222222" stroke-width="1.0"/>
<line x1="202.60" y1="413.30" x2="204.30" y2="413.30" stroke="#222222" stroke-width="0.8"/>
<text x="198.40" y="416.29" font-size="8.3" text-anchor="end" font-weight="normal" fill="#1a1a1a" stroke="#1a1a1a" stroke-width="0.13">0</text>
<line x1="202.60" y1="399.90" x2="204.30" y2="399.90" stroke="#222222" stroke-width="0.8"/>
<text x="198.40" y="402.89" font-size="8.3" text-anchor="end" font-weight="normal" fill="#1a1a1a" stroke="#1a1a1a" stroke-width="0.13">5</text>
<line x1="202.60" y1="386.50" x2="204.30" y2="386.50" stroke="#222222" stroke-width="0.8"/>
<text x="198.40" y="389.49" font-size="8.3" text-anchor="end" font-weight="normal" fill="#1a1a1a" stroke="#1a1a1a" stroke-width="0.13">10</text>
<line x1="202.60" y1="373.10" x2="204.30" y2="373.10" stroke="#222222" stroke-width="0.8"/>
<text x="198.40" y="376.09" font-size="8.3" text-anchor="end" font-weight="normal" fill="#1a1a1a" stroke="#1a1a1a" stroke-width="0.13">15</text>
<line x1="202.60" y1="359.70" x2="204.30" y2="359.70" stroke="#222222" stroke-width="0.8"/>
<text x="198.40" y="362.69" font-size="8.3" text-anchor="end" font-weight="normal" fill="#1a1a1a" stroke="#1a1a1a" stroke-width="0.13">20</text>
<line x1="202.60" y1="346.30" x2="204.30" y2="346.30" stroke="#222222" stroke-width="0.8"/>
<text x="198.40" y="349.29" font-size="8.3" text-anchor="end" font-weight="normal" fill="#1a1a1a" stroke="#1a1a1a" stroke-width="0.13">25</text>
<line x1="202.60" y1="332.90" x2="204.30" y2="332.90" stroke="#222222" stroke-width="0.8"/>
<text x="198.40" y="335.89" font-size="8.3" text-anchor="end" font-weight="normal" fill="#1a1a1a" stroke="#1a1a1a" stroke-width="0.13">30</text>
<line x1="203.00" y1="406.60" x2="204.30" y2="406.60" stroke="#222222" stroke-width="0.6"/>
<line x1="203.00" y1="393.20" x2="204.30" y2="393.20" stroke="#222222" stroke-width="0.6"/>
<line x1="203.00" y1="379.80" x2="204.30" y2="379.80" stroke="#222222" stroke-width="0.6"/>
<line x1="203.00" y1="366.40" x2="204.30" y2="366.40" stroke="#222222" stroke-width="0.6"/>
<line x1="203.00" y1="353.00" x2="204.30" y2="353.00" stroke="#222222" stroke-width="0.6"/>
<line x1="203.00" y1="339.60" x2="204.30" y2="339.60" stroke="#222222" stroke-width="0.6"/>
<line x1="306.60" y1="413.20" x2="308.30" y2="413.20" stroke="#222222" stroke-width="0.8"/>
<text x="312.30" y="416.19" font-size="8.3" text-anchor="start" font-weight="normal" fill="#1a1a1a" stroke="#1a1a1a" stroke-width="0.13">0</text>
<line x1="306.60" y1="399.46" x2="308.30" y2="399.46" stroke="#222222" stroke-width="0.8"/>
<text x="312.30" y="402.45" font-size="8.3" text-anchor="start" font-weight="normal" fill="#1a1a1a" stroke="#1a1a1a" stroke-width="0.13">1</text>
<line x1="306.60" y1="385.72" x2="308.30" y2="385.72" stroke="#222222" stroke-width="0.8"/>
<text x="312.30" y="388.71" font-size="8.3" text-anchor="start" font-weight="normal" fill="#1a1a1a" stroke="#1a1a1a" stroke-width="0.13">2</text>
<line x1="306.60" y1="371.98" x2="308.30" y2="371.98" stroke="#222222" stroke-width="0.8"/>
<text x="312.30" y="374.97" font-size="8.3" text-anchor="start" font-weight="normal" fill="#1a1a1a" stroke="#1a1a1a" stroke-width="0.13">3</text>
<line x1="306.60" y1="358.24" x2="308.30" y2="358.24" stroke="#222222" stroke-width="0.8"/>
<text x="312.30" y="361.23" font-size="8.3" text-anchor="start" font-weight="normal" fill="#1a1a1a" stroke="#1a1a1a" stroke-width="0.13">4</text>
<line x1="306.60" y1="344.50" x2="308.30" y2="344.50" stroke="#222222" stroke-width="0.8"/>
<text x="312.30" y="347.49" font-size="8.3" text-anchor="start" font-weight="normal" fill="#1a1a1a" stroke="#1a1a1a" stroke-width="0.13">5</text>
<line x1="306.60" y1="406.33" x2="307.90" y2="406.33" stroke="#222222" stroke-width="0.6"/>
<line x1="306.60" y1="392.59" x2="307.90" y2="392.59" stroke="#222222" stroke-width="0.6"/>
<line x1="306.60" y1="378.85" x2="307.90" y2="378.85" stroke="#222222" stroke-width="0.6"/>
<line x1="306.60" y1="365.11" x2="307.90" y2="365.11" stroke="#222222" stroke-width="0.6"/>
<line x1="306.60" y1="351.37" x2="307.90" y2="351.37" stroke="#222222" stroke-width="0.6"/>
<line x1="207.60" y1="419.90" x2="207.60" y2="422.10" stroke="#222222" stroke-width="0.8"/>
<text x="207.60" y="432.79" font-size="8.3" text-anchor="middle" font-weight="normal" fill="#1a1a1a" stroke="#1a1a1a" stroke-width="0.13">0</text>
<line x1="232.20" y1="419.90" x2="232.20" y2="422.10" stroke="#222222" stroke-width="0.8"/>
<text x="232.20" y="432.79" font-size="8.3" text-anchor="middle" font-weight="normal" fill="#1a1a1a" stroke="#1a1a1a" stroke-width="0.13">200</text>
<line x1="256.80" y1="419.90" x2="256.80" y2="422.10" stroke="#222222" stroke-width="0.8"/>
<text x="256.80" y="432.79" font-size="8.3" text-anchor="middle" font-weight="normal" fill="#1a1a1a" stroke="#1a1a1a" stroke-width="0.13">400</text>
<line x1="281.40" y1="419.90" x2="281.40" y2="422.10" stroke="#222222" stroke-width="0.8"/>
<text x="281.40" y="432.79" font-size="8.3" text-anchor="middle" font-weight="normal" fill="#1a1a1a" stroke="#1a1a1a" stroke-width="0.13">600</text>
<line x1="306.00" y1="419.90" x2="306.00" y2="422.10" stroke="#222222" stroke-width="0.8"/>
<text x="306.00" y="432.79" font-size="8.3" text-anchor="middle" font-weight="normal" fill="#1a1a1a" stroke="#1a1a1a" stroke-width="0.13">800</text>
<line x1="219.90" y1="419.90" x2="219.90" y2="421.20" stroke="#222222" stroke-width="0.6"/>
<line x1="244.50" y1="419.90" x2="244.50" y2="421.20" stroke="#222222" stroke-width="0.6"/>
<line x1="269.10" y1="419.90" x2="269.10" y2="421.20" stroke="#222222" stroke-width="0.6"/>
<line x1="293.70" y1="419.90" x2="293.70" y2="421.20" stroke="#222222" stroke-width="0.6"/>
<text x="255.45" y="445.70" font-size="8.9" text-anchor="middle" font-weight="normal" fill="#1a1a1a" stroke="#1a1a1a" stroke-width="0.13">Time (s)</text>
<text x="0" y="3.20" font-size="8.9" text-anchor="middle" fill="#1a1a1a" stroke="#1a1a1a" stroke-width="0.13" transform="translate(177.30 378.00) rotate(-90)">Output voltage (mV)</text>
<text x="0" y="3.20" font-size="8.9" text-anchor="middle" fill="#1a1a1a" stroke="#1a1a1a" stroke-width="0.13" transform="translate(328.10 378.00) rotate(-90)">Pressure (MPa)</text>
<line x1="204.90" y1="338.40" x2="218.70" y2="338.40" stroke="#f69494" stroke-width="1.2"/>
<text x="220.90" y="340.36" font-size="7.4" text-anchor="start" font-weight="bold" fill="#1a1a1a" stroke="#1a1a1a" stroke-width="0">Scheme F</text>
<line x1="207.90" y1="371.50" x2="213.70" y2="371.50" stroke="#f01414" stroke-width="1.4"/>
<polygon points="205.10,371.50 208.70,369.52 208.70,373.48" fill="#f01414" stroke="none" stroke-width="1" stroke-linejoin="round"/>
<line x1="296.70" y1="371.50" x2="302.40" y2="371.50" stroke="#80c4dc" stroke-width="1.3"/>
<polygon points="305.20,371.50 301.80,369.63 301.80,373.37" fill="#80c4dc" stroke="none" stroke-width="1" stroke-linejoin="round"/>
<rect x="380.80" y="416.20" width="6.00" height="3.70" fill="#d6e9f0" stroke="none" stroke-width="1" rx="0"/>
<rect x="395.80" y="402.20" width="5.40" height="17.70" fill="#d6e9f0" stroke="none" stroke-width="1" rx="0"/>
<rect x="403.30" y="388.10" width="6.00" height="31.80" fill="#d6e9f0" stroke="none" stroke-width="1" rx="0"/>
<rect x="411.30" y="373.30" width="6.90" height="46.60" fill="#d6e9f0" stroke="none" stroke-width="1" rx="0"/>
<rect x="420.20" y="358.10" width="6.40" height="61.80" fill="#d6e9f0" stroke="none" stroke-width="1" rx="0"/>
<rect x="429.00" y="342.00" width="6.90" height="77.90" fill="#d6e9f0" stroke="none" stroke-width="1" rx="0"/>
<rect x="437.80" y="358.10" width="7.80" height="61.80" fill="#d6e9f0" stroke="none" stroke-width="1" rx="0"/>
<rect x="446.70" y="373.30" width="5.60" height="46.60" fill="#d6e9f0" stroke="none" stroke-width="1" rx="0"/>
<rect x="454.20" y="388.10" width="6.90" height="31.80" fill="#d6e9f0" stroke="none" stroke-width="1" rx="0"/>
<rect x="463.20" y="402.20" width="6.00" height="17.70" fill="#d6e9f0" stroke="none" stroke-width="1" rx="0"/>
<rect x="470.80" y="416.20" width="6.40" height="3.70" fill="#d6e9f0" stroke="none" stroke-width="1" rx="0"/>
<polyline points="380.80,415.40 386.80,415.40 395.80,401.40 401.20,401.40 403.30,387.30 409.30,387.30 411.30,372.50 418.20,372.50 420.20,357.30 426.60,357.30 429.00,341.20 435.90,341.20 437.80,357.30 445.60,357.30 446.70,372.50 452.30,372.50 454.20,387.30 461.10,387.30 463.20,401.40 469.20,401.40 470.80,415.40 477.20,415.40" fill="none" stroke="#f69494" stroke-width="1.25" stroke-linejoin="round"/>
<line x1="375.10" y1="333.10" x2="480.40" y2="333.10" stroke="#9a9a9a" stroke-width="1.3"/>
<line x1="375.10" y1="419.90" x2="480.40" y2="419.90" stroke="#555" stroke-width="1.2"/>
<line x1="377.50" y1="333.10" x2="377.50" y2="419.90" stroke="#222222" stroke-width="1.0"/>
<line x1="480.40" y1="333.10" x2="480.40" y2="419.90" stroke="#222222" stroke-width="1.0"/>
<line x1="375.80" y1="415.00" x2="377.50" y2="415.00" stroke="#222222" stroke-width="0.8"/>
<text x="371.60" y="417.99" font-size="8.3" text-anchor="end" font-weight="normal" fill="#1a1a1a" stroke="#1a1a1a" stroke-width="0.13">0</text>
<line x1="375.80" y1="398.60" x2="377.50" y2="398.60" stroke="#222222" stroke-width="0.8"/>
<text x="371.60" y="401.59" font-size="8.3" text-anchor="end" font-weight="normal" fill="#1a1a1a" stroke="#1a1a1a" stroke-width="0.13">10</text>
<line x1="375.80" y1="382.20" x2="377.50" y2="382.20" stroke="#222222" stroke-width="0.8"/>
<text x="371.60" y="385.19" font-size="8.3" text-anchor="end" font-weight="normal" fill="#1a1a1a" stroke="#1a1a1a" stroke-width="0.13">20</text>
<line x1="375.80" y1="365.80" x2="377.50" y2="365.80" stroke="#222222" stroke-width="0.8"/>
<text x="371.60" y="368.79" font-size="8.3" text-anchor="end" font-weight="normal" fill="#1a1a1a" stroke="#1a1a1a" stroke-width="0.13">30</text>
<line x1="375.80" y1="349.40" x2="377.50" y2="349.40" stroke="#222222" stroke-width="0.8"/>
<text x="371.60" y="352.39" font-size="8.3" text-anchor="end" font-weight="normal" fill="#1a1a1a" stroke="#1a1a1a" stroke-width="0.13">40</text>
<line x1="375.80" y1="333.00" x2="377.50" y2="333.00" stroke="#222222" stroke-width="0.8"/>
<text x="371.60" y="335.99" font-size="8.3" text-anchor="end" font-weight="normal" fill="#1a1a1a" stroke="#1a1a1a" stroke-width="0.13">50</text>
<line x1="376.20" y1="406.80" x2="377.50" y2="406.80" stroke="#222222" stroke-width="0.6"/>
<line x1="376.20" y1="390.40" x2="377.50" y2="390.40" stroke="#222222" stroke-width="0.6"/>
<line x1="376.20" y1="374.00" x2="377.50" y2="374.00" stroke="#222222" stroke-width="0.6"/>
<line x1="376.20" y1="357.60" x2="377.50" y2="357.60" stroke="#222222" stroke-width="0.6"/>
<line x1="376.20" y1="341.20" x2="377.50" y2="341.20" stroke="#222222" stroke-width="0.6"/>
<line x1="480.40" y1="415.60" x2="482.10" y2="415.60" stroke="#222222" stroke-width="0.8"/>
<text x="486.10" y="418.59" font-size="8.3" text-anchor="start" font-weight="normal" fill="#1a1a1a" stroke="#1a1a1a" stroke-width="0.13">0</text>
<line x1="480.40" y1="400.86" x2="482.10" y2="400.86" stroke="#222222" stroke-width="0.8"/>
<text x="486.10" y="403.85" font-size="8.3" text-anchor="start" font-weight="normal" fill="#1a1a1a" stroke="#1a1a1a" stroke-width="0.13">1</text>
<line x1="480.40" y1="386.12" x2="482.10" y2="386.12" stroke="#222222" stroke-width="0.8"/>
<text x="486.10" y="389.11" font-size="8.3" text-anchor="start" font-weight="normal" fill="#1a1a1a" stroke="#1a1a1a" stroke-width="0.13">2</text>
<line x1="480.40" y1="371.38" x2="482.10" y2="371.38" stroke="#222222" stroke-width="0.8"/>
<text x="486.10" y="374.37" font-size="8.3" text-anchor="start" font-weight="normal" fill="#1a1a1a" stroke="#1a1a1a" stroke-width="0.13">3</text>
<line x1="480.40" y1="356.64" x2="482.10" y2="356.64" stroke="#222222" stroke-width="0.8"/>
<text x="486.10" y="359.63" font-size="8.3" text-anchor="start" font-weight="normal" fill="#1a1a1a" stroke="#1a1a1a" stroke-width="0.13">4</text>
<line x1="480.40" y1="341.90" x2="482.10" y2="341.90" stroke="#222222" stroke-width="0.8"/>
<text x="486.10" y="344.89" font-size="8.3" text-anchor="start" font-weight="normal" fill="#1a1a1a" stroke="#1a1a1a" stroke-width="0.13">5</text>
<line x1="480.40" y1="408.23" x2="481.70" y2="408.23" stroke="#222222" stroke-width="0.6"/>
<line x1="480.40" y1="393.49" x2="481.70" y2="393.49" stroke="#222222" stroke-width="0.6"/>
<line x1="480.40" y1="378.75" x2="481.70" y2="378.75" stroke="#222222" stroke-width="0.6"/>
<line x1="480.40" y1="364.01" x2="481.70" y2="364.01" stroke="#222222" stroke-width="0.6"/>
<line x1="480.40" y1="349.27" x2="481.70" y2="349.27" stroke="#222222" stroke-width="0.6"/>
<line x1="381.00" y1="419.90" x2="381.00" y2="422.10" stroke="#222222" stroke-width="0.8"/>
<text x="381.00" y="432.79" font-size="8.3" text-anchor="middle" font-weight="normal" fill="#1a1a1a" stroke="#1a1a1a" stroke-width="0.13">0</text>
<line x1="408.10" y1="419.90" x2="408.10" y2="422.10" stroke="#222222" stroke-width="0.8"/>
<text x="408.10" y="432.79" font-size="8.3" text-anchor="middle" font-weight="normal" fill="#1a1a1a" stroke="#1a1a1a" stroke-width="0.13">200</text>
<line x1="435.20" y1="419.90" x2="435.20" y2="422.10" stroke="#222222" stroke-width="0.8"/>
<text x="435.20" y="432.79" font-size="8.3" text-anchor="middle" font-weight="normal" fill="#1a1a1a" stroke="#1a1a1a" stroke-width="0.13">400</text>
<line x1="462.30" y1="419.90" x2="462.30" y2="422.10" stroke="#222222" stroke-width="0.8"/>
<text x="462.30" y="432.79" font-size="8.3" text-anchor="middle" font-weight="normal" fill="#1a1a1a" stroke="#1a1a1a" stroke-width="0.13">600</text>
<line x1="394.55" y1="419.90" x2="394.55" y2="421.20" stroke="#222222" stroke-width="0.6"/>
<line x1="421.65" y1="419.90" x2="421.65" y2="421.20" stroke="#222222" stroke-width="0.6"/>
<line x1="448.75" y1="419.90" x2="448.75" y2="421.20" stroke="#222222" stroke-width="0.6"/>
<text x="428.95" y="445.70" font-size="8.9" text-anchor="middle" font-weight="normal" fill="#1a1a1a" stroke="#1a1a1a" stroke-width="0.13">Time (s)</text>
<text x="0" y="3.20" font-size="8.9" text-anchor="middle" fill="#1a1a1a" stroke="#1a1a1a" stroke-width="0.13" transform="translate(350.50 378.00) rotate(-90)">Output voltage (mV)</text>
<text x="0" y="3.20" font-size="8.9" text-anchor="middle" fill="#1a1a1a" stroke="#1a1a1a" stroke-width="0.13" transform="translate(501.90 378.00) rotate(-90)">Pressure (MPa)</text>
<line x1="378.00" y1="338.40" x2="392.10" y2="338.40" stroke="#f69494" stroke-width="1.2"/>
<text x="392.30" y="340.36" font-size="7.4" text-anchor="start" font-weight="bold" fill="#1a1a1a" stroke="#1a1a1a" stroke-width="0">Scheme G</text>
<line x1="381.20" y1="375.10" x2="386.90" y2="375.10" stroke="#f01414" stroke-width="1.4"/>
<polygon points="378.40,375.10 382.00,373.12 382.00,377.08" fill="#f01414" stroke="none" stroke-width="1" stroke-linejoin="round"/>
<line x1="471.20" y1="375.10" x2="476.00" y2="375.10" stroke="#80c4dc" stroke-width="1.3"/>
<polygon points="478.80,375.10 475.40,373.23 475.40,376.97" fill="#80c4dc" stroke="none" stroke-width="1" stroke-linejoin="round"/>
<rect x="550.00" y="415.10" width="6.80" height="4.80" fill="#d6e9f0" stroke="none" stroke-width="1" rx="0"/>
<rect x="563.70" y="401.80" width="5.90" height="18.10" fill="#d6e9f0" stroke="none" stroke-width="1" rx="0"/>
<rect x="572.80" y="388.30" width="6.50" height="31.60" fill="#d6e9f0" stroke="none" stroke-width="1" rx="0"/>
<rect x="580.90" y="374.10" width="5.70" height="45.80" fill="#d6e9f0" stroke="none" stroke-width="1" rx="0"/>
<rect x="588.20" y="359.70" width="5.50" height="60.20" fill="#d6e9f0" stroke="none" stroke-width="1" rx="0"/>
<rect x="595.00" y="344.90" width="6.70" height="75.00" fill="#d6e9f0" stroke="none" stroke-width="1" rx="0"/>
<rect x="602.70" y="359.70" width="5.50" height="60.20" fill="#d6e9f0" stroke="none" stroke-width="1" rx="0"/>
<rect x="609.10" y="374.10" width="7.10" height="45.80" fill="#d6e9f0" stroke="none" stroke-width="1" rx="0"/>
<rect x="617.50" y="388.30" width="6.70" height="31.60" fill="#d6e9f0" stroke="none" stroke-width="1" rx="0"/>
<rect x="626.30" y="401.80" width="6.40" height="18.10" fill="#d6e9f0" stroke="none" stroke-width="1" rx="0"/>
<rect x="635.10" y="415.10" width="7.80" height="4.80" fill="#d6e9f0" stroke="none" stroke-width="1" rx="0"/>
<polyline points="550.00,414.30 556.80,414.30 563.70,401.00 569.60,401.00 572.80,387.50 579.30,387.50 580.90,373.30 586.60,373.30 588.20,358.90 593.70,358.90 595.00,344.10 601.70,344.10 602.70,358.90 608.20,358.90 609.10,373.30 616.20,373.30 617.50,387.50 624.20,387.50 626.30,401.00 632.70,401.00 635.10,414.30 642.90,414.30" fill="none" stroke="#f69494" stroke-width="1.25" stroke-linejoin="round"/>
<line x1="544.50" y1="333.10" x2="649.50" y2="333.10" stroke="#9a9a9a" stroke-width="1.3"/>
<line x1="544.50" y1="419.90" x2="649.50" y2="419.90" stroke="#555" stroke-width="1.2"/>
<line x1="546.90" y1="333.10" x2="546.90" y2="419.90" stroke="#444" stroke-width="1.3"/>
<line x1="649.50" y1="333.10" x2="649.50" y2="419.90" stroke="#222222" stroke-width="1.0"/>
<line x1="545.20" y1="414.10" x2="546.90" y2="414.10" stroke="#222222" stroke-width="0.8"/>
<text x="541.00" y="417.09" font-size="8.3" text-anchor="end" font-weight="normal" fill="#1a1a1a" stroke="#1a1a1a" stroke-width="0.13">0</text>
<line x1="545.20" y1="404.00" x2="546.90" y2="404.00" stroke="#222222" stroke-width="0.8"/>
<text x="541.00" y="406.99" font-size="8.3" text-anchor="end" font-weight="normal" fill="#1a1a1a" stroke="#1a1a1a" stroke-width="0.13">5</text>
<line x1="545.20" y1="393.90" x2="546.90" y2="393.90" stroke="#222222" stroke-width="0.8"/>
<text x="541.00" y="396.89" font-size="8.3" text-anchor="end" font-weight="normal" fill="#1a1a1a" stroke="#1a1a1a" stroke-width="0.13">10</text>
<line x1="545.20" y1="383.80" x2="546.90" y2="383.80" stroke="#222222" stroke-width="0.8"/>
<text x="541.00" y="386.79" font-size="8.3" text-anchor="end" font-weight="normal" fill="#1a1a1a" stroke="#1a1a1a" stroke-width="0.13">15</text>
<line x1="545.20" y1="373.70" x2="546.90" y2="373.70" stroke="#222222" stroke-width="0.8"/>
<text x="541.00" y="376.69" font-size="8.3" text-anchor="end" font-weight="normal" fill="#1a1a1a" stroke="#1a1a1a" stroke-width="0.13">20</text>
<line x1="545.20" y1="363.60" x2="546.90" y2="363.60" stroke="#222222" stroke-width="0.8"/>
<text x="541.00" y="366.59" font-size="8.3" text-anchor="end" font-weight="normal" fill="#1a1a1a" stroke="#1a1a1a" stroke-width="0.13">25</text>
<line x1="545.20" y1="353.50" x2="546.90" y2="353.50" stroke="#222222" stroke-width="0.8"/>
<text x="541.00" y="356.49" font-size="8.3" text-anchor="end" font-weight="normal" fill="#1a1a1a" stroke="#1a1a1a" stroke-width="0.13">30</text>
<line x1="545.20" y1="343.40" x2="546.90" y2="343.40" stroke="#222222" stroke-width="0.8"/>
<text x="541.00" y="346.39" font-size="8.3" text-anchor="end" font-weight="normal" fill="#1a1a1a" stroke="#1a1a1a" stroke-width="0.13">35</text>
<line x1="545.20" y1="333.30" x2="546.90" y2="333.30" stroke="#222222" stroke-width="0.8"/>
<text x="541.00" y="336.29" font-size="8.3" text-anchor="end" font-weight="normal" fill="#1a1a1a" stroke="#1a1a1a" stroke-width="0.13">40</text>
<line x1="545.60" y1="409.05" x2="546.90" y2="409.05" stroke="#222222" stroke-width="0.6"/>
<line x1="545.60" y1="398.95" x2="546.90" y2="398.95" stroke="#222222" stroke-width="0.6"/>
<line x1="545.60" y1="388.85" x2="546.90" y2="388.85" stroke="#222222" stroke-width="0.6"/>
<line x1="545.60" y1="378.75" x2="546.90" y2="378.75" stroke="#222222" stroke-width="0.6"/>
<line x1="545.60" y1="368.65" x2="546.90" y2="368.65" stroke="#222222" stroke-width="0.6"/>
<line x1="545.60" y1="358.55" x2="546.90" y2="358.55" stroke="#222222" stroke-width="0.6"/>
<line x1="545.60" y1="348.45" x2="546.90" y2="348.45" stroke="#222222" stroke-width="0.6"/>
<line x1="545.60" y1="338.35" x2="546.90" y2="338.35" stroke="#222222" stroke-width="0.6"/>
<line x1="545.60" y1="419.15" x2="546.90" y2="419.15" stroke="#222222" stroke-width="0.6"/>
<line x1="649.50" y1="414.60" x2="651.20" y2="414.60" stroke="#222222" stroke-width="0.8"/>
<text x="655.20" y="417.59" font-size="8.3" text-anchor="start" font-weight="normal" fill="#1a1a1a" stroke="#1a1a1a" stroke-width="0.13">0</text>
<line x1="649.50" y1="400.54" x2="651.20" y2="400.54" stroke="#222222" stroke-width="0.8"/>
<text x="655.20" y="403.53" font-size="8.3" text-anchor="start" font-weight="normal" fill="#1a1a1a" stroke="#1a1a1a" stroke-width="0.13">1</text>
<line x1="649.50" y1="386.48" x2="651.20" y2="386.48" stroke="#222222" stroke-width="0.8"/>
<text x="655.20" y="389.47" font-size="8.3" text-anchor="start" font-weight="normal" fill="#1a1a1a" stroke="#1a1a1a" stroke-width="0.13">2</text>
<line x1="649.50" y1="372.42" x2="651.20" y2="372.42" stroke="#222222" stroke-width="0.8"/>
<text x="655.20" y="375.41" font-size="8.3" text-anchor="start" font-weight="normal" fill="#1a1a1a" stroke="#1a1a1a" stroke-width="0.13">3</text>
<line x1="649.50" y1="358.36" x2="651.20" y2="358.36" stroke="#222222" stroke-width="0.8"/>
<text x="655.20" y="361.35" font-size="8.3" text-anchor="start" font-weight="normal" fill="#1a1a1a" stroke="#1a1a1a" stroke-width="0.13">4</text>
<line x1="649.50" y1="344.30" x2="651.20" y2="344.30" stroke="#222222" stroke-width="0.8"/>
<text x="655.20" y="347.29" font-size="8.3" text-anchor="start" font-weight="normal" fill="#1a1a1a" stroke="#1a1a1a" stroke-width="0.13">5</text>
<line x1="649.50" y1="407.57" x2="650.80" y2="407.57" stroke="#222222" stroke-width="0.6"/>
<line x1="649.50" y1="393.51" x2="650.80" y2="393.51" stroke="#222222" stroke-width="0.6"/>
<line x1="649.50" y1="379.45" x2="650.80" y2="379.45" stroke="#222222" stroke-width="0.6"/>
<line x1="649.50" y1="365.39" x2="650.80" y2="365.39" stroke="#222222" stroke-width="0.6"/>
<line x1="649.50" y1="351.33" x2="650.80" y2="351.33" stroke="#222222" stroke-width="0.6"/>
<line x1="550.30" y1="419.90" x2="550.30" y2="422.10" stroke="#222222" stroke-width="0.8"/>
<text x="550.30" y="432.79" font-size="8.3" text-anchor="middle" font-weight="normal" fill="#1a1a1a" stroke="#1a1a1a" stroke-width="0.13">0</text>
<line x1="578.70" y1="419.90" x2="578.70" y2="422.10" stroke="#222222" stroke-width="0.8"/>
<text x="578.70" y="432.79" font-size="8.3" text-anchor="middle" font-weight="normal" fill="#1a1a1a" stroke="#1a1a1a" stroke-width="0.13">200</text>
<line x1="607.10" y1="419.90" x2="607.10" y2="422.10" stroke="#222222" stroke-width="0.8"/>
<text x="607.10" y="432.79" font-size="8.3" text-anchor="middle" font-weight="normal" fill="#1a1a1a" stroke="#1a1a1a" stroke-width="0.13">400</text>
<line x1="635.50" y1="419.90" x2="635.50" y2="422.10" stroke="#222222" stroke-width="0.8"/>
<text x="635.50" y="432.79" font-size="8.3" text-anchor="middle" font-weight="normal" fill="#1a1a1a" stroke="#1a1a1a" stroke-width="0.13">600</text>
<line x1="564.50" y1="419.90" x2="564.50" y2="421.20" stroke="#222222" stroke-width="0.6"/>
<line x1="592.90" y1="419.90" x2="592.90" y2="421.20" stroke="#222222" stroke-width="0.6"/>
<line x1="621.30" y1="419.90" x2="621.30" y2="421.20" stroke="#222222" stroke-width="0.6"/>
<text x="598.20" y="445.70" font-size="8.9" text-anchor="middle" font-weight="normal" fill="#1a1a1a" stroke="#1a1a1a" stroke-width="0.13">Time (s)</text>
<text x="0" y="3.20" font-size="8.9" text-anchor="middle" fill="#1a1a1a" stroke="#1a1a1a" stroke-width="0.13" transform="translate(519.90 378.00) rotate(-90)">Output voltage (mV)</text>
<text x="0" y="3.20" font-size="8.9" text-anchor="middle" fill="#1a1a1a" stroke="#1a1a1a" stroke-width="0.13" transform="translate(671.00 378.00) rotate(-90)">Pressure (MPa)</text>
<line x1="548.40" y1="338.60" x2="562.10" y2="338.60" stroke="#f69494" stroke-width="1.2"/>
<text x="565.30" y="340.56" font-size="7.4" text-anchor="start" font-weight="bold" fill="#1a1a1a" stroke="#1a1a1a" stroke-width="0">Scheme H</text>
<line x1="549.90" y1="373.20" x2="556.10" y2="373.20" stroke="#f01414" stroke-width="1.4"/>
<polygon points="547.10,373.20 550.70,371.22 550.70,375.18" fill="#f01414" stroke="none" stroke-width="1" stroke-linejoin="round"/>
<line x1="640.80" y1="373.20" x2="645.20" y2="373.20" stroke="#80c4dc" stroke-width="1.3"/>
<polygon points="648.00,373.20 644.60,371.33 644.60,375.07" fill="#80c4dc" stroke="none" stroke-width="1" stroke-linejoin="round"/>
<text x="1.0" y="468.2" font-size="14" font-weight="bold" fill="#000">d</text>
<rect x="34.80" y="474.60" width="135.80" height="87.00" fill="none" stroke="#222222" stroke-width="1.0" rx="0"/>
<line x1="33.00" y1="474.95" x2="34.80" y2="474.95" stroke="#222222" stroke-width="0.8"/>
<text x="29.30" y="477.94" font-size="8.3" text-anchor="end" font-weight="normal" fill="#1a1a1a" stroke="#1a1a1a" stroke-width="0.13">30</text>
<line x1="33.00" y1="490.70" x2="34.80" y2="490.70" stroke="#222222" stroke-width="0.8"/>
<text x="29.30" y="493.69" font-size="8.3" text-anchor="end" font-weight="normal" fill="#1a1a1a" stroke="#1a1a1a" stroke-width="0.13">20</text>
<line x1="33.00" y1="506.45" x2="34.80" y2="506.45" stroke="#222222" stroke-width="0.8"/>
<text x="29.30" y="509.44" font-size="8.3" text-anchor="end" font-weight="normal" fill="#1a1a1a" stroke="#1a1a1a" stroke-width="0.13">10</text>
<line x1="33.00" y1="522.20" x2="34.80" y2="522.20" stroke="#222222" stroke-width="0.8"/>
<text x="29.30" y="525.19" font-size="8.3" text-anchor="end" font-weight="normal" fill="#1a1a1a" stroke="#1a1a1a" stroke-width="0.13">0</text>
<line x1="33.00" y1="537.95" x2="34.80" y2="537.95" stroke="#222222" stroke-width="0.8"/>
<text x="29.30" y="540.94" font-size="8.3" text-anchor="end" font-weight="normal" fill="#1a1a1a" stroke="#1a1a1a" stroke-width="0.13">−10</text>
<line x1="33.00" y1="553.70" x2="34.80" y2="553.70" stroke="#222222" stroke-width="0.8"/>
<text x="29.30" y="556.69" font-size="8.3" text-anchor="end" font-weight="normal" fill="#1a1a1a" stroke="#1a1a1a" stroke-width="0.13">−20</text>
<line x1="33.50" y1="482.83" x2="34.80" y2="482.83" stroke="#222222" stroke-width="0.6"/>
<line x1="33.50" y1="498.58" x2="34.80" y2="498.58" stroke="#222222" stroke-width="0.6"/>
<line x1="33.50" y1="514.33" x2="34.80" y2="514.33" stroke="#222222" stroke-width="0.6"/>
<line x1="33.50" y1="530.08" x2="34.80" y2="530.08" stroke="#222222" stroke-width="0.6"/>
<line x1="33.50" y1="545.83" x2="34.80" y2="545.83" stroke="#222222" stroke-width="0.6"/>
<line x1="33.50" y1="561.58" x2="34.80" y2="561.58" stroke="#222222" stroke-width="0.6"/>
<line x1="34.80" y1="561.60" x2="34.80" y2="563.80" stroke="#222222" stroke-width="0.8"/>
<text x="34.80" y="574.19" font-size="8.3" text-anchor="middle" font-weight="normal" fill="#1a1a1a" stroke="#1a1a1a" stroke-width="0.13">−100</text>
<line x1="52.90" y1="561.60" x2="52.90" y2="563.80" stroke="#222222" stroke-width="0.8"/>
<text x="52.90" y="574.19" font-size="8.3" text-anchor="middle" font-weight="normal" fill="#1a1a1a" stroke="#1a1a1a" stroke-width="0.13">0</text>
<line x1="71.00" y1="561.60" x2="71.00" y2="563.80" stroke="#222222" stroke-width="0.8"/>
<text x="71.00" y="574.19" font-size="8.3" text-anchor="middle" font-weight="normal" fill="#1a1a1a" stroke="#1a1a1a" stroke-width="0.13">100</text>
<line x1="89.10" y1="561.60" x2="89.10" y2="563.80" stroke="#222222" stroke-width="0.8"/>
<text x="89.10" y="574.19" font-size="8.3" text-anchor="middle" font-weight="normal" fill="#1a1a1a" stroke="#1a1a1a" stroke-width="0.13">200</text>
<line x1="107.20" y1="561.60" x2="107.20" y2="563.80" stroke="#222222" stroke-width="0.8"/>
<text x="107.20" y="574.19" font-size="8.3" text-anchor="middle" font-weight="normal" fill="#1a1a1a" stroke="#1a1a1a" stroke-width="0.13">300</text>
<line x1="125.30" y1="561.60" x2="125.30" y2="563.80" stroke="#222222" stroke-width="0.8"/>
<text x="125.30" y="574.19" font-size="8.3" text-anchor="middle" font-weight="normal" fill="#1a1a1a" stroke="#1a1a1a" stroke-width="0.13">400</text>
<line x1="143.40" y1="561.60" x2="143.40" y2="563.80" stroke="#222222" stroke-width="0.8"/>
<text x="143.40" y="574.19" font-size="8.3" text-anchor="middle" font-weight="normal" fill="#1a1a1a" stroke="#1a1a1a" stroke-width="0.13">500</text>
<line x1="161.50" y1="561.60" x2="161.50" y2="563.80" stroke="#222222" stroke-width="0.8"/>
<text x="161.50" y="574.19" font-size="8.3" text-anchor="middle" font-weight="normal" fill="#1a1a1a" stroke="#1a1a1a" stroke-width="0.13">600</text>
<line x1="43.85" y1="561.60" x2="43.85" y2="562.90" stroke="#222222" stroke-width="0.6"/>
<line x1="61.95" y1="561.60" x2="61.95" y2="562.90" stroke="#222222" stroke-width="0.6"/>
<line x1="80.05" y1="561.60" x2="80.05" y2="562.90" stroke="#222222" stroke-width="0.6"/>
<line x1="98.15" y1="561.60" x2="98.15" y2="562.90" stroke="#222222" stroke-width="0.6"/>
<line x1="116.25" y1="561.60" x2="116.25" y2="562.90" stroke="#222222" stroke-width="0.6"/>
<line x1="134.35" y1="561.60" x2="134.35" y2="562.90" stroke="#222222" stroke-width="0.6"/>
<line x1="152.45" y1="561.60" x2="152.45" y2="562.90" stroke="#222222" stroke-width="0.6"/>
<text x="99.30" y="588.00" font-size="8.9" text-anchor="middle" font-weight="normal" fill="#1a1a1a" stroke="#1a1a1a" stroke-width="0.13">Temperature (°C)</text>
<text x="0" y="3.20" font-size="8.9" text-anchor="middle" fill="#1a1a1a" stroke="#1a1a1a" stroke-width="0.13" transform="translate(5.00 518.10) rotate(-90)">Zero output voltage (mV)</text>
<polyline points="43.85,495.43 52.90,517.48 71.00,527.87 89.10,536.53 107.20,545.98 125.30,553.38 143.40,541.73 161.50,486.29" fill="none" stroke="#f48c8c" stroke-width="0.9" stroke-linejoin="round" stroke-dasharray="1.2,1.6"/>
<line x1="43.85" y1="489.13" x2="43.85" y2="501.73" stroke="#f48c8c" stroke-width="0.7"/>
<line x1="42.65" y1="489.13" x2="45.05" y2="489.13" stroke="#f48c8c" stroke-width="0.7"/>
<line x1="42.65" y1="501.73" x2="45.05" y2="501.73" stroke="#f48c8c" stroke-width="0.7"/>
<circle cx="43.85" cy="495.43" r="1.65" fill="#f48c8c" fill-opacity="0.5" stroke="#f48c8c" stroke-width="0.7"/>
<line x1="52.90" y1="509.60" x2="52.90" y2="525.35" stroke="#f48c8c" stroke-width="0.7"/>
<line x1="51.70" y1="509.60" x2="54.10" y2="509.60" stroke="#f48c8c" stroke-width="0.7"/>
<line x1="51.70" y1="525.35" x2="54.10" y2="525.35" stroke="#f48c8c" stroke-width="0.7"/>
<circle cx="52.90" cy="517.48" r="1.65" fill="#f48c8c" fill-opacity="0.5" stroke="#f48c8c" stroke-width="0.7"/>
<circle cx="71.00" cy="527.87" r="1.65" fill="#f48c8c" fill-opacity="0.5" stroke="#f48c8c" stroke-width="0.7"/>
<circle cx="89.10" cy="536.53" r="1.65" fill="#f48c8c" fill-opacity="0.5" stroke="#f48c8c" stroke-width="0.7"/>
<circle cx="107.20" cy="545.98" r="1.65" fill="#f48c8c" fill-opacity="0.5" stroke="#f48c8c" stroke-width="0.7"/>
<circle cx="125.30" cy="553.38" r="1.65" fill="#f48c8c" fill-opacity="0.5" stroke="#f48c8c" stroke-width="0.7"/>
<circle cx="143.40" cy="541.73" r="1.65" fill="#f48c8c" fill-opacity="0.5" stroke="#f48c8c" stroke-width="0.7"/>
<line x1="161.50" y1="483.14" x2="161.50" y2="489.44" stroke="#f48c8c" stroke-width="0.7"/>
<line x1="160.30" y1="483.14" x2="162.70" y2="483.14" stroke="#f48c8c" stroke-width="0.7"/>
<line x1="160.30" y1="489.44" x2="162.70" y2="489.44" stroke="#f48c8c" stroke-width="0.7"/>
<circle cx="161.50" cy="486.29" r="1.65" fill="#f48c8c" fill-opacity="0.5" stroke="#f48c8c" stroke-width="0.7"/>
<polyline points="43.85,503.30 52.90,516.69 57.42,522.20 71.00,531.34 89.10,536.53 107.20,534.64 125.30,523.78 143.40,512.75 161.50,492.59" fill="none" stroke="#5dbcad" stroke-width="0.9" stroke-linejoin="round" stroke-dasharray="1.2,1.6"/>
<line x1="43.85" y1="497.79" x2="43.85" y2="508.81" stroke="#5dbcad" stroke-width="0.7"/>
<line x1="42.65" y1="497.79" x2="45.05" y2="497.79" stroke="#5dbcad" stroke-width="0.7"/>
<line x1="42.65" y1="508.81" x2="45.05" y2="508.81" stroke="#5dbcad" stroke-width="0.7"/>
<circle cx="43.85" cy="503.30" r="1.65" fill="#5dbcad" fill-opacity="0.5" stroke="#5dbcad" stroke-width="0.7"/>
<line x1="52.90" y1="511.96" x2="52.90" y2="521.41" stroke="#5dbcad" stroke-width="0.7"/>
<line x1="51.70" y1="511.96" x2="54.10" y2="511.96" stroke="#5dbcad" stroke-width="0.7"/>
<line x1="51.70" y1="521.41" x2="54.10" y2="521.41" stroke="#5dbcad" stroke-width="0.7"/>
<circle cx="52.90" cy="516.69" r="1.65" fill="#5dbcad" fill-opacity="0.5" stroke="#5dbcad" stroke-width="0.7"/>
<circle cx="57.42" cy="522.20" r="1.65" fill="#5dbcad" fill-opacity="0.5" stroke="#5dbcad" stroke-width="0.7"/>
<circle cx="71.00" cy="531.34" r="1.65" fill="#5dbcad" fill-opacity="0.5" stroke="#5dbcad" stroke-width="0.7"/>
<circle cx="89.10" cy="536.53" r="1.65" fill="#5dbcad" fill-opacity="0.5" stroke="#5dbcad" stroke-width="0.7"/>
<circle cx="107.20" cy="534.64" r="1.65" fill="#5dbcad" fill-opacity="0.5" stroke="#5dbcad" stroke-width="0.7"/>
<circle cx="125.30" cy="523.78" r="1.65" fill="#5dbcad" fill-opacity="0.5" stroke="#5dbcad" stroke-width="0.7"/>
<line x1="143.40" y1="508.03" x2="143.40" y2="517.48" stroke="#5dbcad" stroke-width="0.7"/>
<line x1="142.20" y1="508.03" x2="144.60" y2="508.03" stroke="#5dbcad" stroke-width="0.7"/>
<line x1="142.20" y1="517.48" x2="144.60" y2="517.48" stroke="#5dbcad" stroke-width="0.7"/>
<circle cx="143.40" cy="512.75" r="1.65" fill="#5dbcad" fill-opacity="0.5" stroke="#5dbcad" stroke-width="0.7"/>
<line x1="161.50" y1="489.44" x2="161.50" y2="495.74" stroke="#5dbcad" stroke-width="0.7"/>
<line x1="160.30" y1="489.44" x2="162.70" y2="489.44" stroke="#5dbcad" stroke-width="0.7"/>
<line x1="160.30" y1="495.74" x2="162.70" y2="495.74" stroke="#5dbcad" stroke-width="0.7"/>
<circle cx="161.50" cy="492.59" r="1.65" fill="#5dbcad" fill-opacity="0.5" stroke="#5dbcad" stroke-width="0.7"/>
<line x1="91.00" y1="481.80" x2="106.20" y2="481.80" stroke="#5dbcad" stroke-width="0.9" stroke-dasharray="1.2,1.6"/>
<circle cx="98.6" cy="481.8" r="1.9" fill="#5dbcad" fill-opacity="0.55" stroke="#5dbcad" stroke-width="0.7"/>
<text x="108.30" y="484.46" font-size="7.4" text-anchor="start" font-weight="normal" fill="#1a1a1a" stroke="#1a1a1a" stroke-width="0.13">Sensor B</text>
<line x1="91.00" y1="491.10" x2="106.20" y2="491.10" stroke="#f48c8c" stroke-width="0.9" stroke-dasharray="1.2,1.6"/>
<circle cx="98.6" cy="491.1" r="1.9" fill="#f48c8c" fill-opacity="0.55" stroke="#f48c8c" stroke-width="0.7"/>
<text x="108.30" y="493.76" font-size="7.4" text-anchor="start" font-weight="normal" fill="#1a1a1a" stroke="#1a1a1a" stroke-width="0.13">Sensor G</text>
<text x="181.0" y="468.2" font-size="14" font-weight="bold" fill="#000">e</text>
<rect x="219.40" y="474.60" width="130.50" height="87.00" fill="none" stroke="#222222" stroke-width="1.0" rx="0"/>
<line x1="217.60" y1="474.60" x2="219.40" y2="474.60" stroke="#222222" stroke-width="0.8"/>
<text x="213.40" y="477.59" font-size="8.3" text-anchor="end" font-weight="normal" fill="#1a1a1a" stroke="#1a1a1a" stroke-width="0.13">0.2</text>
<line x1="217.60" y1="485.40" x2="219.40" y2="485.40" stroke="#222222" stroke-width="0.8"/>
<text x="213.40" y="488.39" font-size="8.3" text-anchor="end" font-weight="normal" fill="#1a1a1a" stroke="#1a1a1a" stroke-width="0.13">0.1</text>
<line x1="217.60" y1="496.20" x2="219.40" y2="496.20" stroke="#222222" stroke-width="0.8"/>
<text x="213.40" y="499.19" font-size="8.3" text-anchor="end" font-weight="normal" fill="#1a1a1a" stroke="#1a1a1a" stroke-width="0.13">0.0</text>
<line x1="217.60" y1="507.00" x2="219.40" y2="507.00" stroke="#222222" stroke-width="0.8"/>
<text x="213.40" y="509.99" font-size="8.3" text-anchor="end" font-weight="normal" fill="#1a1a1a" stroke="#1a1a1a" stroke-width="0.13">−0.1</text>
<line x1="217.60" y1="517.80" x2="219.40" y2="517.80" stroke="#222222" stroke-width="0.8"/>
<text x="213.40" y="520.79" font-size="8.3" text-anchor="end" font-weight="normal" fill="#1a1a1a" stroke="#1a1a1a" stroke-width="0.13">−0.2</text>
<line x1="217.60" y1="528.60" x2="219.40" y2="528.60" stroke="#222222" stroke-width="0.8"/>
<text x="213.40" y="531.59" font-size="8.3" text-anchor="end" font-weight="normal" fill="#1a1a1a" stroke="#1a1a1a" stroke-width="0.13">−0.3</text>
<line x1="217.60" y1="539.40" x2="219.40" y2="539.40" stroke="#222222" stroke-width="0.8"/>
<text x="213.40" y="542.39" font-size="8.3" text-anchor="end" font-weight="normal" fill="#1a1a1a" stroke="#1a1a1a" stroke-width="0.13">−0.4</text>
<line x1="217.60" y1="550.20" x2="219.40" y2="550.20" stroke="#222222" stroke-width="0.8"/>
<text x="213.40" y="553.19" font-size="8.3" text-anchor="end" font-weight="normal" fill="#1a1a1a" stroke="#1a1a1a" stroke-width="0.13">−0.5</text>
<line x1="217.60" y1="561.00" x2="219.40" y2="561.00" stroke="#222222" stroke-width="0.8"/>
<text x="213.40" y="563.99" font-size="8.3" text-anchor="end" font-weight="normal" fill="#1a1a1a" stroke="#1a1a1a" stroke-width="0.13">−0.6</text>
<line x1="218.10" y1="480.00" x2="219.40" y2="480.00" stroke="#222222" stroke-width="0.6"/>
<line x1="218.10" y1="490.80" x2="219.40" y2="490.80" stroke="#222222" stroke-width="0.6"/>
<line x1="218.10" y1="501.60" x2="219.40" y2="501.60" stroke="#222222" stroke-width="0.6"/>
<line x1="218.10" y1="512.40" x2="219.40" y2="512.40" stroke="#222222" stroke-width="0.6"/>
<line x1="218.10" y1="523.20" x2="219.40" y2="523.20" stroke="#222222" stroke-width="0.6"/>
<line x1="218.10" y1="534.00" x2="219.40" y2="534.00" stroke="#222222" stroke-width="0.6"/>
<line x1="218.10" y1="544.80" x2="219.40" y2="544.80" stroke="#222222" stroke-width="0.6"/>
<line x1="218.10" y1="555.60" x2="219.40" y2="555.60" stroke="#222222" stroke-width="0.6"/>
<line x1="219.22" y1="561.60" x2="219.22" y2="563.80" stroke="#222222" stroke-width="0.8"/>
<text x="219.22" y="574.19" font-size="8.3" text-anchor="middle" font-weight="normal" fill="#1a1a1a" stroke="#1a1a1a" stroke-width="0.13">−100</text>
<line x1="236.60" y1="561.60" x2="236.60" y2="563.80" stroke="#222222" stroke-width="0.8"/>
<text x="236.60" y="574.19" font-size="8.3" text-anchor="middle" font-weight="normal" fill="#1a1a1a" stroke="#1a1a1a" stroke-width="0.13">0</text>
<line x1="253.98" y1="561.60" x2="253.98" y2="563.80" stroke="#222222" stroke-width="0.8"/>
<text x="253.98" y="574.19" font-size="8.3" text-anchor="middle" font-weight="normal" fill="#1a1a1a" stroke="#1a1a1a" stroke-width="0.13">100</text>
<line x1="271.36" y1="561.60" x2="271.36" y2="563.80" stroke="#222222" stroke-width="0.8"/>
<text x="271.36" y="574.19" font-size="8.3" text-anchor="middle" font-weight="normal" fill="#1a1a1a" stroke="#1a1a1a" stroke-width="0.13">200</text>
<line x1="288.74" y1="561.60" x2="288.74" y2="563.80" stroke="#222222" stroke-width="0.8"/>
<text x="288.74" y="574.19" font-size="8.3" text-anchor="middle" font-weight="normal" fill="#1a1a1a" stroke="#1a1a1a" stroke-width="0.13">300</text>
<line x1="306.12" y1="561.60" x2="306.12" y2="563.80" stroke="#222222" stroke-width="0.8"/>
<text x="306.12" y="574.19" font-size="8.3" text-anchor="middle" font-weight="normal" fill="#1a1a1a" stroke="#1a1a1a" stroke-width="0.13">400</text>
<line x1="323.50" y1="561.60" x2="323.50" y2="563.80" stroke="#222222" stroke-width="0.8"/>
<text x="323.50" y="574.19" font-size="8.3" text-anchor="middle" font-weight="normal" fill="#1a1a1a" stroke="#1a1a1a" stroke-width="0.13">500</text>
<line x1="340.88" y1="561.60" x2="340.88" y2="563.80" stroke="#222222" stroke-width="0.8"/>
<text x="340.88" y="574.19" font-size="8.3" text-anchor="middle" font-weight="normal" fill="#1a1a1a" stroke="#1a1a1a" stroke-width="0.13">600</text>
<line x1="227.91" y1="561.60" x2="227.91" y2="562.90" stroke="#222222" stroke-width="0.6"/>
<line x1="245.29" y1="561.60" x2="245.29" y2="562.90" stroke="#222222" stroke-width="0.6"/>
<line x1="262.67" y1="561.60" x2="262.67" y2="562.90" stroke="#222222" stroke-width="0.6"/>
<line x1="280.05" y1="561.60" x2="280.05" y2="562.90" stroke="#222222" stroke-width="0.6"/>
<line x1="297.43" y1="561.60" x2="297.43" y2="562.90" stroke="#222222" stroke-width="0.6"/>
<line x1="314.81" y1="561.60" x2="314.81" y2="562.90" stroke="#222222" stroke-width="0.6"/>
<line x1="332.19" y1="561.60" x2="332.19" y2="562.90" stroke="#222222" stroke-width="0.6"/>
<text x="281.25" y="588.00" font-size="8.9" text-anchor="middle" font-weight="normal" fill="#1a1a1a" stroke="#1a1a1a" stroke-width="0.13">Temperature (°C)</text>
<text x="0" y="3.20" font-size="8.9" text-anchor="middle" fill="#1a1a1a" stroke="#1a1a1a" stroke-width="0.13" transform="translate(186.80 519.40) rotate(-90)">TCZ (%/°C)</text>
<polyline points="227.91,550.20 236.60,538.32 253.98,522.12 271.36,513.48 288.74,505.92 306.12,497.60 323.50,491.88 340.88,485.40" fill="none" stroke="#5dbcad" stroke-width="0.9" stroke-linejoin="round" stroke-dasharray="1.2,1.6"/>
<polyline points="227.91,550.20 236.60,532.92 253.98,507.00 271.36,509.16 288.74,509.16 306.12,508.08 323.50,502.68 340.88,487.56" fill="none" stroke="#f48c8c" stroke-width="0.9" stroke-linejoin="round" stroke-dasharray="1.2,1.6"/>
<rect x="226.21" y="548.50" width="3.40" height="3.40" fill="#fff" stroke="#5dbcad" stroke-width="0.7" rx="0" fill-opacity="0.6"/>
<rect x="234.90" y="536.62" width="3.40" height="3.40" fill="#fff" stroke="#5dbcad" stroke-width="0.7" rx="0" fill-opacity="0.6"/>
<rect x="252.28" y="520.42" width="3.40" height="3.40" fill="#fff" stroke="#5dbcad" stroke-width="0.7" rx="0" fill-opacity="0.6"/>
<rect x="269.66" y="511.78" width="3.40" height="3.40" fill="#fff" stroke="#5dbcad" stroke-width="0.7" rx="0" fill-opacity="0.6"/>
<rect x="287.04" y="504.22" width="3.40" height="3.40" fill="#fff" stroke="#5dbcad" stroke-width="0.7" rx="0" fill-opacity="0.6"/>
<rect x="304.42" y="495.90" width="3.40" height="3.40" fill="#fff" stroke="#5dbcad" stroke-width="0.7" rx="0" fill-opacity="0.6"/>
<rect x="321.80" y="490.18" width="3.40" height="3.40" fill="#fff" stroke="#5dbcad" stroke-width="0.7" rx="0" fill-opacity="0.6"/>
<rect x="339.18" y="483.70" width="3.40" height="3.40" fill="#fff" stroke="#5dbcad" stroke-width="0.7" rx="0" fill-opacity="0.6"/>
<polygon points="227.91,548.10 225.81,551.70 230.01,551.70" fill="#fff" stroke="#f48c8c" stroke-width="0.7" stroke-linejoin="round" fill-opacity="0.6"/>
<polygon points="236.60,530.82 234.50,534.42 238.70,534.42" fill="#fff" stroke="#f48c8c" stroke-width="0.7" stroke-linejoin="round" fill-opacity="0.6"/>
<polygon points="253.98,504.90 251.88,508.50 256.08,508.50" fill="#fff" stroke="#f48c8c" stroke-width="0.7" stroke-linejoin="round" fill-opacity="0.6"/>
<polygon points="271.36,507.06 269.26,510.66 273.46,510.66" fill="#fff" stroke="#f48c8c" stroke-width="0.7" stroke-linejoin="round" fill-opacity="0.6"/>
<polygon points="288.74,507.06 286.64,510.66 290.84,510.66" fill="#fff" stroke="#f48c8c" stroke-width="0.7" stroke-linejoin="round" fill-opacity="0.6"/>
<polygon points="306.12,505.98 304.02,509.58 308.22,509.58" fill="#fff" stroke="#f48c8c" stroke-width="0.7" stroke-linejoin="round" fill-opacity="0.6"/>
<polygon points="323.50,500.58 321.40,504.18 325.60,504.18" fill="#fff" stroke="#f48c8c" stroke-width="0.7" stroke-linejoin="round" fill-opacity="0.6"/>
<polygon points="340.88,485.46 338.78,489.06 342.98,489.06" fill="#fff" stroke="#f48c8c" stroke-width="0.7" stroke-linejoin="round" fill-opacity="0.6"/>
<line x1="222.40" y1="482.20" x2="237.00" y2="482.20" stroke="#5dbcad" stroke-width="0.9" stroke-dasharray="1.2,1.6"/>
<rect x="228.10" y="480.50" width="3.40" height="3.40" fill="#fff" stroke="#5dbcad" stroke-width="0.7" rx="0" fill-opacity="0.6"/>
<text x="239.20" y="484.86" font-size="7.4" text-anchor="start" font-weight="normal" fill="#1a1a1a" stroke="#1a1a1a" stroke-width="0.13">Sensor B</text>
<line x1="222.40" y1="491.80" x2="237.00" y2="491.80" stroke="#f48c8c" stroke-width="0.9" stroke-dasharray="1.2,1.6"/>
<polygon points="229.80,489.70 227.70,493.30 231.90,493.30" fill="#fff" stroke="#f48c8c" stroke-width="0.7" stroke-linejoin="round" fill-opacity="0.6"/>
<text x="239.20" y="494.46" font-size="7.4" text-anchor="start" font-weight="normal" fill="#1a1a1a" stroke="#1a1a1a" stroke-width="0.13">Sensor G</text>
<text x="362.0" y="468.2" font-size="14" font-weight="bold" fill="#000">f</text>
<rect x="392.30" y="474.60" width="100.70" height="87.00" fill="none" stroke="#222222" stroke-width="1.0" rx="0"/>
<line x1="390.50" y1="474.66" x2="392.30" y2="474.66" stroke="#222222" stroke-width="0.8"/>
<text x="386.80" y="477.65" font-size="8.3" text-anchor="end" font-weight="normal" fill="#1a1a1a" stroke="#1a1a1a" stroke-width="0.13">60</text>
<line x1="390.50" y1="488.55" x2="392.30" y2="488.55" stroke="#222222" stroke-width="0.8"/>
<text x="386.80" y="491.54" font-size="8.3" text-anchor="end" font-weight="normal" fill="#1a1a1a" stroke="#1a1a1a" stroke-width="0.13">50</text>
<line x1="390.50" y1="502.44" x2="392.30" y2="502.44" stroke="#222222" stroke-width="0.8"/>
<text x="386.80" y="505.43" font-size="8.3" text-anchor="end" font-weight="normal" fill="#1a1a1a" stroke="#1a1a1a" stroke-width="0.13">40</text>
<line x1="390.50" y1="516.33" x2="392.30" y2="516.33" stroke="#222222" stroke-width="0.8"/>
<text x="386.80" y="519.32" font-size="8.3" text-anchor="end" font-weight="normal" fill="#1a1a1a" stroke="#1a1a1a" stroke-width="0.13">30</text>
<line x1="390.50" y1="530.22" x2="392.30" y2="530.22" stroke="#222222" stroke-width="0.8"/>
<text x="386.80" y="533.21" font-size="8.3" text-anchor="end" font-weight="normal" fill="#1a1a1a" stroke="#1a1a1a" stroke-width="0.13">20</text>
<line x1="390.50" y1="544.11" x2="392.30" y2="544.11" stroke="#222222" stroke-width="0.8"/>
<text x="386.80" y="547.10" font-size="8.3" text-anchor="end" font-weight="normal" fill="#1a1a1a" stroke="#1a1a1a" stroke-width="0.13">10</text>
<line x1="390.50" y1="558.00" x2="392.30" y2="558.00" stroke="#222222" stroke-width="0.8"/>
<text x="386.80" y="560.99" font-size="8.3" text-anchor="end" font-weight="normal" fill="#1a1a1a" stroke="#1a1a1a" stroke-width="0.13">0</text>
<line x1="391.00" y1="481.61" x2="392.30" y2="481.61" stroke="#222222" stroke-width="0.6"/>
<line x1="391.00" y1="495.50" x2="392.30" y2="495.50" stroke="#222222" stroke-width="0.6"/>
<line x1="391.00" y1="509.38" x2="392.30" y2="509.38" stroke="#222222" stroke-width="0.6"/>
<line x1="391.00" y1="523.27" x2="392.30" y2="523.27" stroke="#222222" stroke-width="0.6"/>
<line x1="391.00" y1="537.16" x2="392.30" y2="537.16" stroke="#222222" stroke-width="0.6"/>
<line x1="391.00" y1="551.05" x2="392.30" y2="551.05" stroke="#222222" stroke-width="0.6"/>
<line x1="391.00" y1="554.53" x2="392.30" y2="554.53" stroke="#222222" stroke-width="0.6"/>
<line x1="391.00" y1="547.58" x2="392.30" y2="547.58" stroke="#222222" stroke-width="0.6"/>
<line x1="391.00" y1="540.64" x2="392.30" y2="540.64" stroke="#222222" stroke-width="0.6"/>
<line x1="391.00" y1="533.69" x2="392.30" y2="533.69" stroke="#222222" stroke-width="0.6"/>
<line x1="391.00" y1="526.75" x2="392.30" y2="526.75" stroke="#222222" stroke-width="0.6"/>
<line x1="391.00" y1="519.80" x2="392.30" y2="519.80" stroke="#222222" stroke-width="0.6"/>
<line x1="391.00" y1="512.86" x2="392.30" y2="512.86" stroke="#222222" stroke-width="0.6"/>
<line x1="391.00" y1="505.91" x2="392.30" y2="505.91" stroke="#222222" stroke-width="0.6"/>
<line x1="391.00" y1="498.97" x2="392.30" y2="498.97" stroke="#222222" stroke-width="0.6"/>
<line x1="391.00" y1="492.02" x2="392.30" y2="492.02" stroke="#222222" stroke-width="0.6"/>
<line x1="391.00" y1="485.08" x2="392.30" y2="485.08" stroke="#222222" stroke-width="0.6"/>
<line x1="391.00" y1="478.13" x2="392.30" y2="478.13" stroke="#222222" stroke-width="0.6"/>
<line x1="400.40" y1="561.60" x2="400.40" y2="563.80" stroke="#222222" stroke-width="0.8"/>
<text x="400.40" y="574.19" font-size="8.3" text-anchor="middle" font-weight="normal" fill="#1a1a1a" stroke="#1a1a1a" stroke-width="0.13">0</text>
<line x1="417.22" y1="561.60" x2="417.22" y2="563.80" stroke="#222222" stroke-width="0.8"/>
<text x="417.22" y="574.19" font-size="8.3" text-anchor="middle" font-weight="normal" fill="#1a1a1a" stroke="#1a1a1a" stroke-width="0.13">1</text>
<line x1="434.04" y1="561.60" x2="434.04" y2="563.80" stroke="#222222" stroke-width="0.8"/>
<text x="434.04" y="574.19" font-size="8.3" text-anchor="middle" font-weight="normal" fill="#1a1a1a" stroke="#1a1a1a" stroke-width="0.13">2</text>
<line x1="450.86" y1="561.60" x2="450.86" y2="563.80" stroke="#222222" stroke-width="0.8"/>
<text x="450.86" y="574.19" font-size="8.3" text-anchor="middle" font-weight="normal" fill="#1a1a1a" stroke="#1a1a1a" stroke-width="0.13">3</text>
<line x1="467.68" y1="561.60" x2="467.68" y2="563.80" stroke="#222222" stroke-width="0.8"/>
<text x="467.68" y="574.19" font-size="8.3" text-anchor="middle" font-weight="normal" fill="#1a1a1a" stroke="#1a1a1a" stroke-width="0.13">4</text>
<line x1="484.50" y1="561.60" x2="484.50" y2="563.80" stroke="#222222" stroke-width="0.8"/>
<text x="484.50" y="574.19" font-size="8.3" text-anchor="middle" font-weight="normal" fill="#1a1a1a" stroke="#1a1a1a" stroke-width="0.13">5</text>
<line x1="408.81" y1="561.60" x2="408.81" y2="562.90" stroke="#222222" stroke-width="0.6"/>
<line x1="425.63" y1="561.60" x2="425.63" y2="562.90" stroke="#222222" stroke-width="0.6"/>
<line x1="442.45" y1="561.60" x2="442.45" y2="562.90" stroke="#222222" stroke-width="0.6"/>
<line x1="459.27" y1="561.60" x2="459.27" y2="562.90" stroke="#222222" stroke-width="0.6"/>
<line x1="476.09" y1="561.60" x2="476.09" y2="562.90" stroke="#222222" stroke-width="0.6"/>
<text x="442.50" y="588.00" font-size="8.9" text-anchor="middle" font-weight="normal" fill="#1a1a1a" stroke="#1a1a1a" stroke-width="0.13">Pressure (MPa)</text>
<text x="0" y="3.20" font-size="8.9" text-anchor="middle" fill="#1a1a1a" stroke="#1a1a1a" stroke-width="0.13" transform="translate(364.40 518.50) rotate(-90)">Sensor output (mV)</text>
<polyline points="400.40,558.00 417.22,542.86 434.04,527.73 450.86,513.91 467.68,499.22 484.50,484.52" fill="none" stroke="#cdb09c" stroke-width="0.9" stroke-linejoin="round"/>
<circle cx="400.40" cy="558.00" r="1.9" fill="#cdb09c"/>
<circle cx="417.22" cy="542.86" r="1.9" fill="#cdb09c"/>
<circle cx="434.04" cy="527.73" r="1.9" fill="#cdb09c"/>
<circle cx="450.86" cy="513.91" r="1.9" fill="#cdb09c"/>
<circle cx="467.68" cy="499.22" r="1.9" fill="#cdb09c"/>
<circle cx="484.50" cy="484.52" r="1.9" fill="#cdb09c"/>
<polyline points="400.40,558.00 417.22,544.18 434.04,530.36 450.86,517.75 467.68,504.33 484.50,490.91" fill="none" stroke="#5a92cc" stroke-width="0.9" stroke-linejoin="round"/>
<polygon points="400.40,555.80 398.20,559.60 402.60,559.60" fill="#5a92cc" stroke="none" stroke-width="1" stroke-linejoin="round"/>
<polygon points="417.22,541.98 415.02,545.78 419.42,545.78" fill="#5a92cc" stroke="none" stroke-width="1" stroke-linejoin="round"/>
<polygon points="434.04,528.16 431.84,531.96 436.24,531.96" fill="#5a92cc" stroke="none" stroke-width="1" stroke-linejoin="round"/>
<polygon points="450.86,515.55 448.66,519.35 453.06,519.35" fill="#5a92cc" stroke="none" stroke-width="1" stroke-linejoin="round"/>
<polygon points="467.68,502.13 465.48,505.93 469.88,505.93" fill="#5a92cc" stroke="none" stroke-width="1" stroke-linejoin="round"/>
<polygon points="484.50,488.71 482.30,492.51 486.70,492.51" fill="#5a92cc" stroke="none" stroke-width="1" stroke-linejoin="round"/>
<polyline points="400.40,558.00 417.22,544.61 434.04,531.22 450.86,519.00 467.68,506.00 484.50,492.99" fill="none" stroke="#7fcfc6" stroke-width="0.9" stroke-linejoin="round"/>
<rect x="398.70" y="556.30" width="3.40" height="3.40" fill="#fff" stroke="#7fcfc6" stroke-width="0.7" rx="0"/>
<rect x="415.52" y="542.91" width="3.40" height="3.40" fill="#fff" stroke="#7fcfc6" stroke-width="0.7" rx="0"/>
<rect x="432.34" y="529.52" width="3.40" height="3.40" fill="#fff" stroke="#7fcfc6" stroke-width="0.7" rx="0"/>
<rect x="449.16" y="517.30" width="3.40" height="3.40" fill="#fff" stroke="#7fcfc6" stroke-width="0.7" rx="0"/>
<rect x="465.98" y="504.30" width="3.40" height="3.40" fill="#fff" stroke="#7fcfc6" stroke-width="0.7" rx="0"/>
<rect x="482.80" y="491.29" width="3.40" height="3.40" fill="#fff" stroke="#7fcfc6" stroke-width="0.7" rx="0"/>
<polyline points="400.40,558.00 417.22,546.38 434.04,534.77 450.86,524.16 467.68,512.89 484.50,501.61" fill="none" stroke="#b4aeea" stroke-width="0.9" stroke-linejoin="round"/>
<circle cx="400.40" cy="558.00" r="1.9" fill="#fff" stroke="#b4aeea" stroke-width="0.7"/>
<circle cx="417.22" cy="546.38" r="1.9" fill="#fff" stroke="#b4aeea" stroke-width="0.7"/>
<circle cx="434.04" cy="534.77" r="1.9" fill="#fff" stroke="#b4aeea" stroke-width="0.7"/>
<circle cx="450.86" cy="524.16" r="1.9" fill="#fff" stroke="#b4aeea" stroke-width="0.7"/>
<circle cx="467.68" cy="512.89" r="1.9" fill="#fff" stroke="#b4aeea" stroke-width="0.7"/>
<circle cx="484.50" cy="501.61" r="1.9" fill="#fff" stroke="#b4aeea" stroke-width="0.7"/>
<polyline points="400.40,558.00 417.22,547.13 434.04,536.25 450.86,526.33 467.68,515.77 484.50,505.22" fill="none" stroke="#f49a9a" stroke-width="0.9" stroke-linejoin="round"/>
<circle cx="400.40" cy="558.00" r="1.9" fill="#f49a9a"/>
<circle cx="417.22" cy="547.13" r="1.9" fill="#f49a9a"/>
<circle cx="434.04" cy="536.25" r="1.9" fill="#f49a9a"/>
<circle cx="450.86" cy="526.33" r="1.9" fill="#f49a9a"/>
<circle cx="467.68" cy="515.77" r="1.9" fill="#f49a9a"/>
<circle cx="484.50" cy="505.22" r="1.9" fill="#f49a9a"/>
<polyline points="400.40,558.00 417.22,548.39 434.04,538.77 450.86,530.00 467.68,520.66 484.50,511.33" fill="none" stroke="#f8b46a" stroke-width="0.9" stroke-linejoin="round"/>
<line x1="398.20" y1="558.00" x2="402.60" y2="558.00" stroke="#f8b46a" stroke-width="0.8"/>
<line x1="399.30" y1="556.09" x2="401.50" y2="559.91" stroke="#f8b46a" stroke-width="0.8"/>
<line x1="401.50" y1="556.09" x2="399.30" y2="559.91" stroke="#f8b46a" stroke-width="0.8"/>
<line x1="415.02" y1="548.39" x2="419.42" y2="548.39" stroke="#f8b46a" stroke-width="0.8"/>
<line x1="416.12" y1="546.48" x2="418.32" y2="550.29" stroke="#f8b46a" stroke-width="0.8"/>
<line x1="418.32" y1="546.48" x2="416.12" y2="550.29" stroke="#f8b46a" stroke-width="0.8"/>
<line x1="431.84" y1="538.77" x2="436.24" y2="538.77" stroke="#f8b46a" stroke-width="0.8"/>
<line x1="432.94" y1="536.87" x2="435.14" y2="540.68" stroke="#f8b46a" stroke-width="0.8"/>
<line x1="435.14" y1="536.87" x2="432.94" y2="540.68" stroke="#f8b46a" stroke-width="0.8"/>
<line x1="448.66" y1="530.00" x2="453.06" y2="530.00" stroke="#f8b46a" stroke-width="0.8"/>
<line x1="449.76" y1="528.09" x2="451.96" y2="531.90" stroke="#f8b46a" stroke-width="0.8"/>
<line x1="451.96" y1="528.09" x2="449.76" y2="531.90" stroke="#f8b46a" stroke-width="0.8"/>
<line x1="465.48" y1="520.66" x2="469.88" y2="520.66" stroke="#f8b46a" stroke-width="0.8"/>
<line x1="466.58" y1="518.76" x2="468.78" y2="522.57" stroke="#f8b46a" stroke-width="0.8"/>
<line x1="468.78" y1="518.76" x2="466.58" y2="522.57" stroke="#f8b46a" stroke-width="0.8"/>
<line x1="482.30" y1="511.33" x2="486.70" y2="511.33" stroke="#f8b46a" stroke-width="0.8"/>
<line x1="483.40" y1="509.42" x2="485.60" y2="513.23" stroke="#f8b46a" stroke-width="0.8"/>
<line x1="485.60" y1="509.42" x2="483.40" y2="513.23" stroke="#f8b46a" stroke-width="0.8"/>
<polyline points="400.40,558.00 417.22,549.13 434.04,540.26 450.86,532.16 467.68,523.55 484.50,514.94" fill="none" stroke="#ee5a5a" stroke-width="0.9" stroke-linejoin="round"/>
<circle cx="400.40" cy="558.00" r="1.9" fill="#ee5a5a"/>
<circle cx="417.22" cy="549.13" r="1.9" fill="#ee5a5a"/>
<circle cx="434.04" cy="540.26" r="1.9" fill="#ee5a5a"/>
<circle cx="450.86" cy="532.16" r="1.9" fill="#ee5a5a"/>
<circle cx="467.68" cy="523.55" r="1.9" fill="#ee5a5a"/>
<circle cx="484.50" cy="514.94" r="1.9" fill="#ee5a5a"/>
<line x1="395.80" y1="481.20" x2="404.20" y2="481.20" stroke="#cdb09c" stroke-width="0.9"/>
<circle cx="399.90" cy="481.20" r="1.9" fill="#cdb09c"/>
<text x="406.60" y="483.86" font-size="7.4" text-anchor="start" font-weight="normal" fill="#1a1a1a" stroke="#1a1a1a" stroke-width="0.13">−50°C</text>
<line x1="395.80" y1="489.52" x2="404.20" y2="489.52" stroke="#5a92cc" stroke-width="0.9"/>
<polygon points="399.90,487.32 397.70,491.12 402.10,491.12" fill="#5a92cc" stroke="none" stroke-width="1" stroke-linejoin="round"/>
<text x="406.60" y="492.18" font-size="7.4" text-anchor="start" font-weight="normal" fill="#1a1a1a" stroke="#1a1a1a" stroke-width="0.13">0°C</text>
<line x1="395.80" y1="497.84" x2="404.20" y2="497.84" stroke="#7fcfc6" stroke-width="0.9"/>
<rect x="398.20" y="496.14" width="3.40" height="3.40" fill="#fff" stroke="#7fcfc6" stroke-width="0.7" rx="0"/>
<text x="406.60" y="500.50" font-size="7.4" text-anchor="start" font-weight="normal" fill="#1a1a1a" stroke="#1a1a1a" stroke-width="0.13">25°C</text>
<line x1="395.80" y1="506.16" x2="404.20" y2="506.16" stroke="#b4aeea" stroke-width="0.9"/>
<circle cx="399.90" cy="506.16" r="1.9" fill="#fff" stroke="#b4aeea" stroke-width="0.7"/>
<text x="406.60" y="508.82" font-size="7.4" text-anchor="start" font-weight="normal" fill="#1a1a1a" stroke="#1a1a1a" stroke-width="0.13">100°C</text>
<line x1="395.80" y1="514.48" x2="404.20" y2="514.48" stroke="#f49a9a" stroke-width="0.9"/>
<circle cx="399.90" cy="514.48" r="1.9" fill="#f49a9a"/>
<text x="406.60" y="517.14" font-size="7.4" text-anchor="start" font-weight="normal" fill="#1a1a1a" stroke="#1a1a1a" stroke-width="0.13">200°C</text>
<line x1="395.80" y1="522.80" x2="404.20" y2="522.80" stroke="#f8b46a" stroke-width="0.9"/>
<line x1="397.70" y1="522.80" x2="402.10" y2="522.80" stroke="#f8b46a" stroke-width="0.8"/>
<line x1="398.80" y1="520.89" x2="401.00" y2="524.71" stroke="#f8b46a" stroke-width="0.8"/>
<line x1="401.00" y1="520.89" x2="398.80" y2="524.71" stroke="#f8b46a" stroke-width="0.8"/>
<text x="406.60" y="525.46" font-size="7.4" text-anchor="start" font-weight="normal" fill="#1a1a1a" stroke="#1a1a1a" stroke-width="0.13">300°C</text>
<line x1="395.80" y1="531.12" x2="404.20" y2="531.12" stroke="#ee5a5a" stroke-width="0.9"/>
<circle cx="399.90" cy="531.12" r="1.9" fill="#ee5a5a"/>
<text x="406.60" y="533.78" font-size="7.4" text-anchor="start" font-weight="normal" fill="#1a1a1a" stroke="#1a1a1a" stroke-width="0.13">400°C</text>
<text x="512.6" y="467.6" font-size="14" font-weight="bold" fill="#000">g</text>
<rect x="551.53" y="485.75" width="7.20" height="75.95" fill="url(#gtcs)" stroke="none" stroke-width="1" rx="0"/>
<rect x="560.70" y="507.45" width="7.20" height="54.25" fill="url(#gtcs)" stroke="none" stroke-width="1" rx="0"/>
<rect x="579.03" y="485.75" width="7.20" height="75.95" fill="url(#gtcs)" stroke="none" stroke-width="1" rx="0"/>
<rect x="597.36" y="515.26" width="7.20" height="46.44" fill="url(#gtcs)" stroke="none" stroke-width="1" rx="0"/>
<rect x="615.69" y="517.00" width="7.20" height="44.70" fill="url(#gtcs)" stroke="none" stroke-width="1" rx="0"/>
<rect x="634.02" y="522.21" width="7.20" height="39.49" fill="url(#gtcs)" stroke="none" stroke-width="1" rx="0"/>
<line x1="554.90" y1="481.10" x2="554.90" y2="561.70" stroke="#7cc7bf" stroke-width="0.6" stroke-dasharray="1.2,1.4"/>
<line x1="564.10" y1="495.80" x2="564.10" y2="561.70" stroke="#7cc7bf" stroke-width="0.6" stroke-dasharray="1.2,1.4"/>
<line x1="568.90" y1="500.70" x2="568.90" y2="561.70" stroke="#7cc7bf" stroke-width="0.6" stroke-dasharray="1.2,1.4"/>
<line x1="582.60" y1="519.90" x2="582.60" y2="561.70" stroke="#7cc7bf" stroke-width="0.6" stroke-dasharray="1.2,1.4"/>
<line x1="600.70" y1="528.00" x2="600.70" y2="561.70" stroke="#7cc7bf" stroke-width="0.6" stroke-dasharray="1.2,1.4"/>
<line x1="619.00" y1="541.80" x2="619.00" y2="561.70" stroke="#7cc7bf" stroke-width="0.6" stroke-dasharray="1.2,1.4"/>
<line x1="637.20" y1="550.90" x2="637.20" y2="561.70" stroke="#7cc7bf" stroke-width="0.6" stroke-dasharray="1.2,1.4"/>
<polyline points="554.90,481.10 564.10,495.80 568.90,500.70 582.60,519.90 600.70,528.00 619.00,541.80 637.20,550.90" fill="none" stroke="#5dbcad" stroke-width="0.9" stroke-linejoin="round" stroke-dasharray="1.2,1.6"/>
<circle cx="554.90" cy="481.10" r="2.1" fill="url(#gball)"/>
<circle cx="564.10" cy="495.80" r="2.1" fill="url(#gball)"/>
<circle cx="568.90" cy="500.70" r="2.1" fill="url(#gball)"/>
<circle cx="582.60" cy="519.90" r="2.1" fill="url(#gball)"/>
<circle cx="600.70" cy="528.00" r="2.1" fill="url(#gball)"/>
<circle cx="619.00" cy="541.80" r="2.1" fill="url(#gball)"/>
<circle cx="637.20" cy="550.90" r="2.1" fill="url(#gball)"/>
<rect x="544.90" y="474.60" width="102.00" height="87.10" fill="none" stroke="#222222" stroke-width="1.0" rx="0"/>
<line x1="543.10" y1="475.00" x2="544.90" y2="475.00" stroke="#222222" stroke-width="0.8"/>
<text x="539.90" y="477.99" font-size="8.3" text-anchor="end" font-weight="normal" fill="#1a1a1a" stroke="#1a1a1a" stroke-width="0.13">2.2</text>
<line x1="543.10" y1="490.70" x2="544.90" y2="490.70" stroke="#222222" stroke-width="0.8"/>
<text x="539.90" y="493.69" font-size="8.3" text-anchor="end" font-weight="normal" fill="#1a1a1a" stroke="#1a1a1a" stroke-width="0.13">2.0</text>
<line x1="543.10" y1="506.40" x2="544.90" y2="506.40" stroke="#222222" stroke-width="0.8"/>
<text x="539.90" y="509.39" font-size="8.3" text-anchor="end" font-weight="normal" fill="#1a1a1a" stroke="#1a1a1a" stroke-width="0.13">1.8</text>
<line x1="543.10" y1="522.10" x2="544.90" y2="522.10" stroke="#222222" stroke-width="0.8"/>
<text x="539.90" y="525.09" font-size="8.3" text-anchor="end" font-weight="normal" fill="#1a1a1a" stroke="#1a1a1a" stroke-width="0.13">1.6</text>
<line x1="543.10" y1="537.80" x2="544.90" y2="537.80" stroke="#222222" stroke-width="0.8"/>
<text x="539.90" y="540.79" font-size="8.3" text-anchor="end" font-weight="normal" fill="#1a1a1a" stroke="#1a1a1a" stroke-width="0.13">1.4</text>
<line x1="543.10" y1="553.50" x2="544.90" y2="553.50" stroke="#222222" stroke-width="0.8"/>
<text x="539.90" y="556.49" font-size="8.3" text-anchor="end" font-weight="normal" fill="#1a1a1a" stroke="#1a1a1a" stroke-width="0.13">1.2</text>
<line x1="543.60" y1="482.85" x2="544.90" y2="482.85" stroke="#222222" stroke-width="0.6"/>
<line x1="543.60" y1="498.55" x2="544.90" y2="498.55" stroke="#222222" stroke-width="0.6"/>
<line x1="543.60" y1="514.25" x2="544.90" y2="514.25" stroke="#222222" stroke-width="0.6"/>
<line x1="543.60" y1="529.95" x2="544.90" y2="529.95" stroke="#222222" stroke-width="0.6"/>
<line x1="543.60" y1="545.65" x2="544.90" y2="545.65" stroke="#222222" stroke-width="0.6"/>
<line x1="543.60" y1="561.35" x2="544.90" y2="561.35" stroke="#222222" stroke-width="0.6"/>
<line x1="646.90" y1="474.90" x2="649.10" y2="474.90" stroke="#222222" stroke-width="0.8"/>
<text x="651.10" y="477.89" font-size="8.3" text-anchor="start" font-weight="normal" fill="#1a1a1a" stroke="#1a1a1a" stroke-width="0.13">0.20</text>
<line x1="646.90" y1="496.60" x2="649.10" y2="496.60" stroke="#222222" stroke-width="0.8"/>
<text x="651.10" y="499.59" font-size="8.3" text-anchor="start" font-weight="normal" fill="#1a1a1a" stroke="#1a1a1a" stroke-width="0.13">0.15</text>
<line x1="646.90" y1="518.30" x2="649.10" y2="518.30" stroke="#222222" stroke-width="0.8"/>
<text x="651.10" y="521.29" font-size="8.3" text-anchor="start" font-weight="normal" fill="#1a1a1a" stroke="#1a1a1a" stroke-width="0.13">0.10</text>
<line x1="646.90" y1="540.00" x2="649.10" y2="540.00" stroke="#222222" stroke-width="0.8"/>
<text x="651.10" y="542.99" font-size="8.3" text-anchor="start" font-weight="normal" fill="#1a1a1a" stroke="#1a1a1a" stroke-width="0.13">0.05</text>
<line x1="646.90" y1="561.70" x2="649.10" y2="561.70" stroke="#222222" stroke-width="0.8"/>
<text x="651.10" y="564.69" font-size="8.3" text-anchor="start" font-weight="normal" fill="#1a1a1a" stroke="#1a1a1a" stroke-width="0.13">0.00</text>
<line x1="646.90" y1="485.75" x2="648.20" y2="485.75" stroke="#222222" stroke-width="0.6"/>
<line x1="646.90" y1="507.45" x2="648.20" y2="507.45" stroke="#222222" stroke-width="0.6"/>
<line x1="646.90" y1="529.15" x2="648.20" y2="529.15" stroke="#222222" stroke-width="0.6"/>
<line x1="646.90" y1="550.85" x2="648.20" y2="550.85" stroke="#222222" stroke-width="0.6"/>
<line x1="545.97" y1="561.70" x2="545.97" y2="563.90" stroke="#222222" stroke-width="0.8"/>
<text x="545.97" y="574.29" font-size="8.3" text-anchor="middle" font-weight="normal" fill="#1a1a1a" stroke="#1a1a1a" stroke-width="0.13">−100</text>
<line x1="564.30" y1="561.70" x2="564.30" y2="563.90" stroke="#222222" stroke-width="0.8"/>
<text x="564.30" y="574.29" font-size="8.3" text-anchor="middle" font-weight="normal" fill="#1a1a1a" stroke="#1a1a1a" stroke-width="0.13">0</text>
<line x1="582.63" y1="561.70" x2="582.63" y2="563.90" stroke="#222222" stroke-width="0.8"/>
<text x="582.63" y="574.29" font-size="8.3" text-anchor="middle" font-weight="normal" fill="#1a1a1a" stroke="#1a1a1a" stroke-width="0.13">100</text>
<line x1="600.96" y1="561.70" x2="600.96" y2="563.90" stroke="#222222" stroke-width="0.8"/>
<text x="600.96" y="574.29" font-size="8.3" text-anchor="middle" font-weight="normal" fill="#1a1a1a" stroke="#1a1a1a" stroke-width="0.13">200</text>
<line x1="619.29" y1="561.70" x2="619.29" y2="563.90" stroke="#222222" stroke-width="0.8"/>
<text x="619.29" y="574.29" font-size="8.3" text-anchor="middle" font-weight="normal" fill="#1a1a1a" stroke="#1a1a1a" stroke-width="0.13">300</text>
<line x1="637.62" y1="561.70" x2="637.62" y2="563.90" stroke="#222222" stroke-width="0.8"/>
<text x="637.62" y="574.29" font-size="8.3" text-anchor="middle" font-weight="normal" fill="#1a1a1a" stroke="#1a1a1a" stroke-width="0.13">400</text>
<line x1="555.13" y1="561.70" x2="555.13" y2="563.00" stroke="#222222" stroke-width="0.6"/>
<line x1="573.46" y1="561.70" x2="573.46" y2="563.00" stroke="#222222" stroke-width="0.6"/>
<line x1="591.79" y1="561.70" x2="591.79" y2="563.00" stroke="#222222" stroke-width="0.6"/>
<line x1="610.12" y1="561.70" x2="610.12" y2="563.00" stroke="#222222" stroke-width="0.6"/>
<line x1="628.45" y1="561.70" x2="628.45" y2="563.00" stroke="#222222" stroke-width="0.6"/>
<text x="597.00" y="588.50" font-size="8.9" text-anchor="middle" font-weight="normal" fill="#1a1a1a" stroke="#1a1a1a" stroke-width="0.13">Temperature (°C)</text>
<text x="0" y="3.20" font-size="8.9" text-anchor="middle" fill="#1a1a1a" stroke="#1a1a1a" stroke-width="0.13" transform="translate(516.80 515.50) rotate(-90)">Sensitivity (mV/V/MPa)</text>
<text x="0" y="3.20" font-size="8.9" text-anchor="middle" fill="#1a1a1a" stroke="#1a1a1a" stroke-width="0.13" transform="translate(679.60 517.50) rotate(-90)">TCS (%/°C)</text>
<rect x="600.10" y="481.00" width="9.50" height="5.30" fill="url(#gtcs)" stroke="none" stroke-width="1" rx="0"/>
<text x="611.60" y="486.36" font-size="7.4" text-anchor="start" font-weight="normal" fill="#1a1a1a" stroke="#1a1a1a" stroke-width="0.13">TCS</text>
<line x1="599.00" y1="492.60" x2="610.00" y2="492.60" stroke="#5dbcad" stroke-width="0.9" stroke-dasharray="1.2,1.6"/>
<circle cx="604.6" cy="492.6" r="2.1" fill="url(#gball)"/>
<text x="611.60" y="495.26" font-size="7.4" text-anchor="start" font-weight="normal" fill="#1a1a1a" stroke="#1a1a1a" stroke-width="0.13">Sensitivity</text>
<text x="100.4" y="612.2" font-size="14" font-weight="bold" fill="#000">h</text>
<rect x="124.00" y="693.70" width="15.60" height="17.50" fill="url(#hg0)" stroke="none" stroke-width="1" rx="0"/>
<text x="131.80" y="692.32" font-size="7.0" text-anchor="middle" font-weight="normal" fill="#1a1a1a" stroke="#1a1a1a" stroke-width="0.13">150</text>
<rect x="143.90" y="676.90" width="15.20" height="34.30" fill="url(#hg1)" stroke="none" stroke-width="1" rx="0"/>
<text x="151.50" y="675.52" font-size="7.0" text-anchor="middle" font-weight="normal" fill="#1a1a1a" stroke="#1a1a1a" stroke-width="0.13">250</text>
<rect x="163.30" y="642.60" width="15.50" height="68.60" fill="url(#hg2)" stroke="none" stroke-width="1" rx="0"/>
<text x="171.05" y="641.22" font-size="7.0" text-anchor="middle" font-weight="normal" fill="#1a1a1a" stroke="#1a1a1a" stroke-width="0.13">600</text>
<rect x="183.10" y="682.60" width="15.40" height="28.60" fill="url(#hg3)" stroke="none" stroke-width="1" rx="0"/>
<text x="190.80" y="681.22" font-size="7.0" text-anchor="middle" font-weight="normal" fill="#1a1a1a" stroke="#1a1a1a" stroke-width="0.13">300</text>
<rect x="202.40" y="642.60" width="15.40" height="68.60" fill="url(#hg4)" stroke="none" stroke-width="1" rx="0"/>
<text x="210.10" y="641.22" font-size="7.0" text-anchor="middle" font-weight="normal" fill="#1a1a1a" stroke="#1a1a1a" stroke-width="0.13">600</text>
<rect x="241.70" y="662.10" width="15.50" height="49.10" fill="url(#hg0)" stroke="none" stroke-width="1" rx="0"/>
<text x="249.45" y="660.72" font-size="7.0" text-anchor="middle" font-weight="normal" fill="#1a1a1a" stroke="#1a1a1a" stroke-width="0.13">3.40</text>
<rect x="261.20" y="662.50" width="15.50" height="48.70" fill="url(#hg1)" stroke="none" stroke-width="1" rx="0"/>
<text x="268.95" y="661.12" font-size="7.0" text-anchor="middle" font-weight="normal" fill="#1a1a1a" stroke="#1a1a1a" stroke-width="0.13">3.38</text>
<rect x="280.60" y="642.60" width="15.60" height="68.60" fill="url(#hg2)" stroke="none" stroke-width="1" rx="0"/>
<text x="288.40" y="641.22" font-size="7.0" text-anchor="middle" font-weight="normal" fill="#1a1a1a" stroke="#1a1a1a" stroke-width="0.13">4.70</text>
<rect x="300.10" y="688.70" width="15.40" height="22.50" fill="url(#hg3)" stroke="none" stroke-width="1" rx="0"/>
<text x="307.80" y="687.32" font-size="7.0" text-anchor="middle" font-weight="normal" fill="#1a1a1a" stroke="#1a1a1a" stroke-width="0.13">1.56</text>
<rect x="319.60" y="683.40" width="15.50" height="27.80" fill="url(#hg4)" stroke="none" stroke-width="1" rx="0"/>
<text x="327.35" y="682.02" font-size="7.0" text-anchor="middle" font-weight="normal" fill="#1a1a1a" stroke="#1a1a1a" stroke-width="0.13">1.93</text>
<rect x="358.50" y="663.00" width="15.50" height="48.20" fill="url(#hg0)" stroke="none" stroke-width="1" rx="0"/>
<text x="366.25" y="661.62" font-size="7.0" text-anchor="middle" font-weight="normal" fill="#1a1a1a" stroke="#1a1a1a" stroke-width="0.13">7</text>
<rect x="378.00" y="698.00" width="15.50" height="13.20" fill="url(#hg1)" stroke="none" stroke-width="1" rx="0"/>
<text x="385.75" y="696.62" font-size="7.0" text-anchor="middle" font-weight="normal" fill="#1a1a1a" stroke="#1a1a1a" stroke-width="0.13">2</text>
<rect x="397.40" y="701.80" width="15.60" height="9.40" fill="url(#hg2)" stroke="none" stroke-width="1" rx="0"/>
<text x="405.20" y="700.42" font-size="7.0" text-anchor="middle" font-weight="normal" fill="#1a1a1a" stroke="#1a1a1a" stroke-width="0.13">1.38</text>
<rect x="416.80" y="642.70" width="16.40" height="68.50" fill="url(#hg3)" stroke="none" stroke-width="1" rx="0"/>
<text x="425.00" y="641.32" font-size="7.0" text-anchor="middle" font-weight="normal" fill="#1a1a1a" stroke="#1a1a1a" stroke-width="0.13">10</text>
<rect x="436.60" y="676.50" width="15.80" height="34.70" fill="url(#hg4)" stroke="none" stroke-width="1" rx="0"/>
<text x="444.50" y="675.12" font-size="7.0" text-anchor="middle" font-weight="normal" fill="#1a1a1a" stroke="#1a1a1a" stroke-width="0.13">5</text>
<rect x="475.70" y="688.60" width="15.80" height="22.60" fill="url(#hg0)" stroke="none" stroke-width="1" rx="0"/>
<text x="483.60" y="687.22" font-size="7.0" text-anchor="middle" font-weight="normal" fill="#1a1a1a" stroke="#1a1a1a" stroke-width="0.13">0.56</text>
<rect x="494.90" y="684.00" width="16.10" height="27.20" fill="url(#hg2)" stroke="none" stroke-width="1" rx="0"/>
<text x="502.95" y="682.62" font-size="7.0" text-anchor="middle" font-weight="normal" fill="#1a1a1a" stroke="#1a1a1a" stroke-width="0.13">0.46</text>
<rect x="514.40" y="665.30" width="15.80" height="45.90" fill="url(#hg3)" stroke="none" stroke-width="1" rx="0"/>
<text x="522.30" y="663.92" font-size="7.0" text-anchor="middle" font-weight="normal" fill="#1a1a1a" stroke="#1a1a1a" stroke-width="0.13">0.27</text>
<rect x="534.00" y="642.40" width="15.80" height="68.80" fill="url(#hg4)" stroke="none" stroke-width="1" rx="0"/>
<text x="541.90" y="641.02" font-size="7.0" text-anchor="middle" font-weight="normal" fill="#1a1a1a" stroke="#1a1a1a" stroke-width="0.13">0.18</text>
<rect x="112.40" y="609.20" width="449.00" height="102.00" fill="none" stroke="#222222" stroke-width="1.0" rx="0"/>
<text x="171.40" y="722.64" font-size="9.0" text-anchor="middle" font-weight="normal" fill="#1a1a1a" stroke="#1a1a1a" stroke-width="0.13">Temperature (°C)</text>
<text x="288.40" y="722.64" font-size="9.0" text-anchor="middle" font-weight="normal" fill="#1a1a1a" stroke="#1a1a1a" stroke-width="0.13">Sensitivity (mV/V/MPa)</text>
<text x="405.20" y="722.64" font-size="9.0" text-anchor="middle" font-weight="normal" fill="#1a1a1a" stroke="#1a1a1a" stroke-width="0.13">Pressure range (MPa)</text>
<text x="512.30" y="722.64" font-size="9.0" text-anchor="middle" font-weight="normal" fill="#1a1a1a" stroke="#1a1a1a" stroke-width="0.13">Accuracy (% FSO)</text>
<text x="0" y="3.13" font-size="8.7" text-anchor="middle" fill="#1a1a1a" stroke="#1a1a1a" stroke-width="0.13" transform="translate(105.00 659.80) rotate(-90)">Normalized index</text>
<rect x="299.20" y="614.00" width="19.60" height="6.40" fill="#7fcac0" stroke="none" stroke-width="1" rx="0" fill-opacity="0.85"/>
<text x="321.40" y="619.72" font-size="7.0" text-anchor="start" font-weight="normal" fill="#1a1a1a" stroke="#1a1a1a" stroke-width="0.13">[35]</text>
<rect x="348.80" y="614.00" width="19.60" height="6.40" fill="#f4705e" stroke="none" stroke-width="1" rx="0" fill-opacity="0.85"/>
<text x="371.00" y="619.72" font-size="7.0" text-anchor="start" font-weight="normal" fill="#1a1a1a" stroke="#1a1a1a" stroke-width="0.13">[36]</text>
<rect x="397.20" y="614.00" width="19.60" height="6.40" fill="#6c9ecc" stroke="none" stroke-width="1" rx="0" fill-opacity="0.85"/>
<text x="419.40" y="619.72" font-size="7.0" text-anchor="start" font-weight="normal" fill="#1a1a1a" stroke="#1a1a1a" stroke-width="0.13">[37]</text>
<rect x="445.80" y="614.00" width="19.60" height="6.40" fill="#f8ae5e" stroke="none" stroke-width="1" rx="0" fill-opacity="0.85"/>
<text x="468.00" y="619.72" font-size="7.0" text-anchor="start" font-weight="normal" fill="#1a1a1a" stroke="#1a1a1a" stroke-width="0.13">[38]</text>
<rect x="490.70" y="614.00" width="19.60" height="6.40" fill="#d2b6a6" stroke="none" stroke-width="1" rx="0" fill-opacity="0.85"/>
<text x="512.90" y="619.72" font-size="7.0" text-anchor="start" font-weight="normal" fill="#1a1a1a" stroke="#1a1a1a" stroke-width="0.13">This work</text>
</svg>
</body></html>
